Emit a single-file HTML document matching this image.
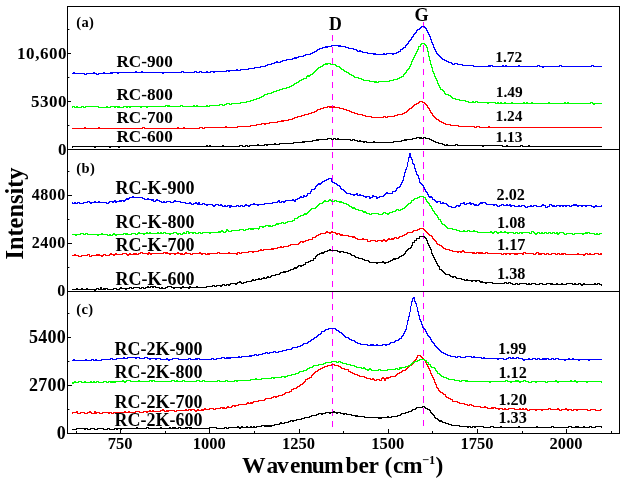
<!DOCTYPE html>
<html><head><meta charset="utf-8"><title>Raman</title>
<style>
html,body{margin:0;padding:0;background:#fff;}
svg{display:block;}
text{font-family:"Liberation Serif",serif;font-weight:bold;fill:#000;}
.cv path{fill:none;stroke-width:1;shape-rendering:crispEdges;stroke-linejoin:miter;}
.ax rect{fill:#000;shape-rendering:crispEdges;}
</style></head><body>
<svg width="624" height="484" viewBox="0 0 624 484">
<rect width="624" height="484" fill="#fff"/>
<g><line x1="332.5" x2="332.5" y1="35.0" y2="426.8" stroke="#ff00ff" stroke-width="1" stroke-dasharray="6.3 5.4" shape-rendering="crispEdges"/>
<line x1="423.5" x2="423.5" y1="22.0" y2="426.4" stroke="#ff00ff" stroke-width="1" stroke-dasharray="6.3 5.4" shape-rendering="crispEdges"/></g>
<g class="cv"><path d="M72.0 147.5 L73.0 146.5 L74.0 146.5 L75.0 146.5 L76.0 146.5 L77.0 146.5 L78.0 146.5 L79.0 146.5 L80.0 146.5 L81.0 146.5 L82.0 146.5 L83.0 146.5 L84.0 146.5 L85.0 146.5 L86.0 146.5 L87.0 146.5 L88.0 146.5 L89.0 146.5 L90.0 146.5 L91.0 146.5 L92.0 146.5 L93.0 146.5 L94.0 146.5 L95.0 147.5 L96.0 146.5 L97.0 146.5 L98.0 146.5 L99.0 146.5 L100.0 146.5 L101.0 146.5 L102.0 146.5 L103.0 146.5 L104.0 146.5 L105.0 146.5 L106.0 146.5 L107.0 146.5 L108.0 146.5 L109.0 146.5 L110.0 147.5 L111.0 146.5 L112.0 146.5 L113.0 146.5 L114.0 146.5 L115.0 146.5 L116.0 146.5 L117.0 146.5 L118.0 146.5 L119.0 147.5 L120.0 146.5 L121.0 146.5 L122.0 146.5 L123.0 146.5 L124.0 146.5 L125.0 146.5 L126.0 146.5 L127.0 146.5 L128.0 146.5 L129.0 146.5 L130.0 146.5 L131.0 146.5 L132.0 146.5 L133.0 146.5 L134.0 146.5 L135.0 146.5 L136.0 146.5 L137.0 146.5 L138.0 146.5 L139.0 146.5 L140.0 146.5 L141.0 146.5 L142.0 146.5 L143.0 146.5 L144.0 146.5 L145.0 146.5 L146.0 146.5 L147.0 146.5 L148.0 146.5 L149.0 146.5 L150.0 146.5 L151.0 146.5 L152.0 146.5 L153.0 146.5 L154.0 146.5 L155.0 146.5 L156.0 146.5 L157.0 146.5 L158.0 146.5 L159.0 146.5 L160.0 146.5 L161.0 146.5 L162.0 146.5 L163.0 146.5 L164.0 146.5 L165.0 146.5 L166.0 146.5 L167.0 146.5 L168.0 146.5 L169.0 146.5 L170.0 146.5 L171.0 146.5 L172.0 146.5 L173.0 146.5 L174.0 146.5 L175.0 146.5 L176.0 146.5 L177.0 146.5 L178.0 146.5 L179.0 146.5 L180.0 146.5 L181.0 146.5 L182.0 146.5 L183.0 146.5 L184.0 146.5 L185.0 146.5 L186.0 146.5 L187.0 146.5 L188.0 146.5 L189.0 146.5 L190.0 146.5 L191.0 146.5 L192.0 146.5 L193.0 146.5 L194.0 146.5 L195.0 146.5 L196.0 146.5 L197.0 146.5 L198.0 146.5 L199.0 146.5 L200.0 146.5 L201.0 146.5 L202.0 146.5 L203.0 146.5 L204.0 146.5 L205.0 146.5 L206.0 146.5 L207.0 145.5 L208.0 146.5 L209.0 146.5 L210.0 145.5 L211.0 146.5 L212.0 146.5 L213.0 146.5 L214.0 146.5 L215.0 146.5 L216.0 146.5 L217.0 146.5 L218.0 146.5 L219.0 146.5 L220.0 146.5 L221.0 146.5 L222.0 146.5 L223.0 145.5 L224.0 146.5 L225.0 146.5 L226.0 146.5 L227.0 146.5 L228.0 146.5 L229.0 146.5 L230.0 146.5 L231.0 146.5 L232.0 146.5 L233.0 146.5 L234.0 146.5 L235.0 146.5 L236.0 146.5 L237.0 146.5 L238.0 146.5 L239.0 146.5 L240.0 145.5 L241.0 145.5 L242.0 145.5 L243.0 146.5 L244.0 146.5 L245.0 146.5 L246.0 145.5 L247.0 145.5 L248.0 146.5 L249.0 146.5 L250.0 145.5 L251.0 145.5 L252.0 145.5 L253.0 145.5 L254.0 145.5 L255.0 145.5 L256.0 145.5 L257.0 145.5 L258.0 144.5 L259.0 145.5 L260.0 145.5 L261.0 145.5 L262.0 145.5 L263.0 145.5 L264.0 145.5 L265.0 144.5 L266.0 144.5 L267.0 145.5 L268.0 144.5 L269.0 144.5 L270.0 144.5 L271.0 144.5 L272.0 144.5 L273.0 144.5 L274.0 144.5 L275.0 143.5 L276.0 144.5 L277.0 144.5 L278.0 144.5 L279.0 144.5 L280.0 143.5 L281.0 143.5 L282.0 143.5 L283.0 143.5 L284.0 143.5 L285.0 143.5 L286.0 143.5 L287.0 143.5 L288.0 143.5 L289.0 143.5 L290.0 143.5 L291.0 143.5 L292.0 143.5 L293.0 143.5 L294.0 142.5 L295.0 142.5 L296.0 142.5 L297.0 142.5 L298.0 142.5 L299.0 142.5 L300.0 142.5 L301.0 142.5 L302.0 142.5 L303.0 141.5 L304.0 142.5 L305.0 141.5 L306.0 141.5 L307.0 141.5 L308.0 141.5 L309.0 141.5 L310.0 141.5 L311.0 141.5 L312.0 141.5 L313.0 140.5 L314.0 140.5 L315.0 140.5 L316.0 140.5 L317.0 139.5 L318.0 140.5 L319.0 139.5 L320.0 139.5 L321.0 139.5 L322.0 139.5 L323.0 139.5 L324.0 139.5 L325.0 139.5 L326.0 139.5 L327.0 139.5 L328.0 138.5 L329.0 138.5 L330.0 138.5 L331.0 138.5 L332.0 139.5 L333.0 139.5 L334.0 138.5 L335.0 138.5 L336.0 139.5 L337.0 139.5 L338.0 138.5 L339.0 139.5 L340.0 139.5 L341.0 139.5 L342.0 139.5 L343.0 139.5 L344.0 139.5 L345.0 139.5 L346.0 139.5 L347.0 139.5 L348.0 139.5 L349.0 139.5 L350.0 139.5 L351.0 140.5 L352.0 140.5 L353.0 139.5 L354.0 139.5 L355.0 140.5 L356.0 140.5 L357.0 140.5 L358.0 141.5 L359.0 141.5 L360.0 140.5 L361.0 141.5 L362.0 141.5 L363.0 141.5 L364.0 142.5 L365.0 141.5 L366.0 141.5 L367.0 142.5 L368.0 142.5 L369.0 142.5 L370.0 142.5 L371.0 142.5 L372.0 142.5 L373.0 142.5 L374.0 141.5 L375.0 142.5 L376.0 142.5 L377.0 142.5 L378.0 142.5 L379.0 142.5 L380.0 142.5 L381.0 142.5 L382.0 142.5 L383.0 142.5 L384.0 142.5 L385.0 142.5 L386.0 142.5 L387.0 142.5 L388.0 142.5 L389.0 142.5 L390.0 142.5 L391.0 142.5 L392.0 142.5 L393.0 142.5 L394.0 141.5 L395.0 141.5 L396.0 141.5 L397.0 141.5 L398.0 141.5 L399.0 141.5 L400.0 141.5 L401.0 141.5 L402.0 140.5 L403.0 140.5 L404.0 140.5 L405.0 139.5 L406.0 140.5 L407.0 139.5 L408.0 139.5 L409.0 139.5 L410.0 139.5 L411.0 139.5 L412.0 139.5 L413.0 138.5 L414.0 138.5 L415.0 138.5 L416.0 138.5 L417.0 137.5 L418.0 137.5 L419.0 137.5 L420.0 138.5 L421.0 137.5 L422.0 138.5 L423.0 138.5 L424.0 137.5 L425.0 137.5 L426.0 138.5 L427.0 138.5 L428.0 138.5 L429.0 138.5 L430.0 139.5 L431.0 139.5 L432.0 140.5 L433.0 140.5 L434.0 141.5 L435.0 141.5 L436.0 142.5 L437.0 142.5 L438.0 142.5 L439.0 143.5 L440.0 143.5 L441.0 143.5 L442.0 143.5 L443.0 144.5 L444.0 144.5 L445.0 145.5 L446.0 145.5 L447.0 144.5 L448.0 145.5 L449.0 145.5 L450.0 145.5 L451.0 145.5 L452.0 145.5 L453.0 145.5 L454.0 145.5 L455.0 145.5 L456.0 144.5 L457.0 144.5 L458.0 145.5 L459.0 145.5 L460.0 145.5 L461.0 145.5 L462.0 145.5 L463.0 145.5 L464.0 145.5 L465.0 145.5 L466.0 145.5 L467.0 145.5 L468.0 145.5 L469.0 145.5 L470.0 145.5 L471.0 145.5 L472.0 145.5 L473.0 145.5 L474.0 145.5 L475.0 145.5 L476.0 145.5 L477.0 145.5 L478.0 145.5 L479.0 145.5 L480.0 145.5 L481.0 145.5 L482.0 145.5 L483.0 146.5 L484.0 145.5 L485.0 145.5 L486.0 145.5 L487.0 145.5 L488.0 145.5 L489.0 145.5 L490.0 145.5 L491.0 145.5 L492.0 145.5 L493.0 145.5 L494.0 145.5 L495.0 145.5 L496.0 145.5 L497.0 145.5 L498.0 145.5 L499.0 145.5 L500.0 145.5 L501.0 145.5 L502.0 145.5 L503.0 146.5 L504.0 146.5 L505.0 146.5 L506.0 146.5 L507.0 145.5 L508.0 146.5 L509.0 146.5 L510.0 146.5 L511.0 146.5 L512.0 146.5 L513.0 146.5 L514.0 146.5 L515.0 146.5 L516.0 146.5 L517.0 146.5 L518.0 146.5 L519.0 146.5 L520.0 146.5 L521.0 145.5 L522.0 145.5 L523.0 146.5 L524.0 146.5 L525.0 146.5 L526.0 146.5 L527.0 146.5 L528.0 146.5 L529.0 145.5 L530.0 146.5 L531.0 146.5 L532.0 146.5 L533.0 146.5 L534.0 146.5 L535.0 146.5 L536.0 146.5 L537.0 146.5 L538.0 146.5 L539.0 146.5 L540.0 146.5 L541.0 146.5 L542.0 146.5 L543.0 146.5 L544.0 146.5 L545.0 146.5 L546.0 146.5 L547.0 146.5 L548.0 146.5 L549.0 146.5 L550.0 146.5 L551.0 146.5 L552.0 146.5 L553.0 146.5 L554.0 146.5 L555.0 146.5 L556.0 146.5 L557.0 146.5 L558.0 146.5 L559.0 146.5 L560.0 146.5 L561.0 146.5 L562.0 146.5 L563.0 146.5 L564.0 146.5 L565.0 146.5 L566.0 146.5 L567.0 146.5 L568.0 146.5 L569.0 146.5 L570.0 146.5 L571.0 146.5 L572.0 146.5 L573.0 146.5 L574.0 146.5 L575.0 146.5 L576.0 146.5 L577.0 146.5 L578.0 146.5 L579.0 146.5 L580.0 146.5 L581.0 146.5 L582.0 146.5 L583.0 146.5 L584.0 146.5 L585.0 146.5 L586.0 146.5 L587.0 146.5 L588.0 146.5 L589.0 146.5 L590.0 146.5 L591.0 146.5 L592.0 146.5 L593.0 146.5 L594.0 146.5 L595.0 146.5 L596.0 146.5 L597.0 146.5 L598.0 146.5 L599.0 146.5 L600.0 146.5 L601.0 146.5 L602.0 146.5" stroke="#000000"/>
<path d="M72.0 128.5 L73.0 128.5 L74.0 128.5 L75.0 128.5 L76.0 128.5 L77.0 128.5 L78.0 128.5 L79.0 128.5 L80.0 128.5 L81.0 128.5 L82.0 128.5 L83.0 128.5 L84.0 128.5 L85.0 127.5 L86.0 128.5 L87.0 128.5 L88.0 128.5 L89.0 128.5 L90.0 128.5 L91.0 128.5 L92.0 128.5 L93.0 128.5 L94.0 128.5 L95.0 128.5 L96.0 128.5 L97.0 128.5 L98.0 128.5 L99.0 127.5 L100.0 128.5 L101.0 128.5 L102.0 128.5 L103.0 128.5 L104.0 128.5 L105.0 128.5 L106.0 128.5 L107.0 128.5 L108.0 128.5 L109.0 128.5 L110.0 128.5 L111.0 128.5 L112.0 128.5 L113.0 128.5 L114.0 128.5 L115.0 128.5 L116.0 128.5 L117.0 128.5 L118.0 128.5 L119.0 128.5 L120.0 128.5 L121.0 128.5 L122.0 128.5 L123.0 128.5 L124.0 128.5 L125.0 128.5 L126.0 128.5 L127.0 128.5 L128.0 128.5 L129.0 128.5 L130.0 128.5 L131.0 128.5 L132.0 128.5 L133.0 128.5 L134.0 128.5 L135.0 128.5 L136.0 128.5 L137.0 128.5 L138.0 128.5 L139.0 128.5 L140.0 128.5 L141.0 128.5 L142.0 128.5 L143.0 127.5 L144.0 127.5 L145.0 128.5 L146.0 128.5 L147.0 128.5 L148.0 128.5 L149.0 128.5 L150.0 128.5 L151.0 128.5 L152.0 128.5 L153.0 128.5 L154.0 128.5 L155.0 128.5 L156.0 128.5 L157.0 128.5 L158.0 128.5 L159.0 128.5 L160.0 128.5 L161.0 128.5 L162.0 128.5 L163.0 128.5 L164.0 128.5 L165.0 128.5 L166.0 128.5 L167.0 128.5 L168.0 128.5 L169.0 128.5 L170.0 128.5 L171.0 128.5 L172.0 128.5 L173.0 128.5 L174.0 128.5 L175.0 128.5 L176.0 128.5 L177.0 128.5 L178.0 127.5 L179.0 128.5 L180.0 128.5 L181.0 128.5 L182.0 128.5 L183.0 128.5 L184.0 127.5 L185.0 128.5 L186.0 128.5 L187.0 128.5 L188.0 128.5 L189.0 128.5 L190.0 128.5 L191.0 128.5 L192.0 128.5 L193.0 128.5 L194.0 128.5 L195.0 128.5 L196.0 128.5 L197.0 128.5 L198.0 128.5 L199.0 128.5 L200.0 127.5 L201.0 127.5 L202.0 127.5 L203.0 128.5 L204.0 128.5 L205.0 127.5 L206.0 127.5 L207.0 127.5 L208.0 127.5 L209.0 127.5 L210.0 127.5 L211.0 127.5 L212.0 127.5 L213.0 127.5 L214.0 127.5 L215.0 127.5 L216.0 127.5 L217.0 127.5 L218.0 127.5 L219.0 127.5 L220.0 127.5 L221.0 127.5 L222.0 127.5 L223.0 127.5 L224.0 127.5 L225.0 127.5 L226.0 126.5 L227.0 127.5 L228.0 127.5 L229.0 127.5 L230.0 127.5 L231.0 127.5 L232.0 127.5 L233.0 127.5 L234.0 127.5 L235.0 127.5 L236.0 127.5 L237.0 127.5 L238.0 126.5 L239.0 126.5 L240.0 126.5 L241.0 126.5 L242.0 126.5 L243.0 126.5 L244.0 126.5 L245.0 126.5 L246.0 126.5 L247.0 126.5 L248.0 126.5 L249.0 126.5 L250.0 126.5 L251.0 125.5 L252.0 125.5 L253.0 125.5 L254.0 125.5 L255.0 125.5 L256.0 125.5 L257.0 124.5 L258.0 124.5 L259.0 124.5 L260.0 124.5 L261.0 124.5 L262.0 123.5 L263.0 123.5 L264.0 123.5 L265.0 124.5 L266.0 123.5 L267.0 123.5 L268.0 123.5 L269.0 123.5 L270.0 122.5 L271.0 122.5 L272.0 122.5 L273.0 122.5 L274.0 122.5 L275.0 122.5 L276.0 122.5 L277.0 122.5 L278.0 121.5 L279.0 121.5 L280.0 121.5 L281.0 121.5 L282.0 120.5 L283.0 121.5 L284.0 120.5 L285.0 120.5 L286.0 120.5 L287.0 120.5 L288.0 120.5 L289.0 119.5 L290.0 119.5 L291.0 119.5 L292.0 119.5 L293.0 118.5 L294.0 118.5 L295.0 117.5 L296.0 117.5 L297.0 117.5 L298.0 116.5 L299.0 116.5 L300.0 116.5 L301.0 116.5 L302.0 115.5 L303.0 115.5 L304.0 115.5 L305.0 114.5 L306.0 114.5 L307.0 114.5 L308.0 114.5 L309.0 113.5 L310.0 113.5 L311.0 113.5 L312.0 112.5 L313.0 112.5 L314.0 112.5 L315.0 111.5 L316.0 111.5 L317.0 110.5 L318.0 109.5 L319.0 109.5 L320.0 109.5 L321.0 108.5 L322.0 108.5 L323.0 108.5 L324.0 107.5 L325.0 107.5 L326.0 107.5 L327.0 107.5 L328.0 106.5 L329.0 106.5 L330.0 107.5 L331.0 106.5 L332.0 107.5 L333.0 107.5 L334.0 106.5 L335.0 107.5 L336.0 107.5 L337.0 107.5 L338.0 107.5 L339.0 107.5 L340.0 108.5 L341.0 108.5 L342.0 108.5 L343.0 108.5 L344.0 109.5 L345.0 109.5 L346.0 109.5 L347.0 110.5 L348.0 110.5 L349.0 110.5 L350.0 111.5 L351.0 111.5 L352.0 112.5 L353.0 112.5 L354.0 112.5 L355.0 113.5 L356.0 113.5 L357.0 113.5 L358.0 114.5 L359.0 114.5 L360.0 114.5 L361.0 114.5 L362.0 114.5 L363.0 115.5 L364.0 115.5 L365.0 115.5 L366.0 116.5 L367.0 116.5 L368.0 116.5 L369.0 116.5 L370.0 116.5 L371.0 116.5 L372.0 117.5 L373.0 117.5 L374.0 117.5 L375.0 117.5 L376.0 117.5 L377.0 117.5 L378.0 117.5 L379.0 117.5 L380.0 117.5 L381.0 117.5 L382.0 117.5 L383.0 117.5 L384.0 116.5 L385.0 116.5 L386.0 117.5 L387.0 117.5 L388.0 116.5 L389.0 116.5 L390.0 116.5 L391.0 116.5 L392.0 116.5 L393.0 116.5 L394.0 116.5 L395.0 115.5 L396.0 115.5 L397.0 115.5 L398.0 114.5 L399.0 114.5 L400.0 114.5 L401.0 114.5 L402.0 114.5 L403.0 113.5 L404.0 113.5 L405.0 112.5 L406.0 112.5 L407.0 111.5 L408.0 110.5 L409.0 109.5 L410.0 108.5 L411.0 108.5 L412.0 107.5 L413.0 106.5 L414.0 105.5 L415.0 104.5 L416.0 104.5 L417.0 103.5 L418.0 103.5 L419.0 102.5 L420.0 101.5 L421.0 101.5 L422.0 101.5 L423.0 102.5 L424.0 102.5 L425.0 103.5 L426.0 104.5 L427.0 105.5 L428.0 107.5 L429.0 108.5 L430.0 110.5 L431.0 112.5 L432.0 113.5 L433.0 115.5 L434.0 116.5 L435.0 117.5 L436.0 118.5 L437.0 119.5 L438.0 119.5 L439.0 120.5 L440.0 121.5 L441.0 121.5 L442.0 122.5 L443.0 122.5 L444.0 123.5 L445.0 123.5 L446.0 124.5 L447.0 124.5 L448.0 124.5 L449.0 124.5 L450.0 124.5 L451.0 125.5 L452.0 125.5 L453.0 125.5 L454.0 125.5 L455.0 125.5 L456.0 125.5 L457.0 125.5 L458.0 125.5 L459.0 126.5 L460.0 126.5 L461.0 126.5 L462.0 126.5 L463.0 126.5 L464.0 126.5 L465.0 126.5 L466.0 126.5 L467.0 126.5 L468.0 126.5 L469.0 126.5 L470.0 126.5 L471.0 126.5 L472.0 126.5 L473.0 126.5 L474.0 126.5 L475.0 127.5 L476.0 127.5 L477.0 126.5 L478.0 126.5 L479.0 126.5 L480.0 127.5 L481.0 127.5 L482.0 127.5 L483.0 127.5 L484.0 127.5 L485.0 127.5 L486.0 127.5 L487.0 127.5 L488.0 127.5 L489.0 126.5 L490.0 127.5 L491.0 127.5 L492.0 127.5 L493.0 127.5 L494.0 127.5 L495.0 127.5 L496.0 127.5 L497.0 127.5 L498.0 127.5 L499.0 127.5 L500.0 127.5 L501.0 127.5 L502.0 127.5 L503.0 127.5 L504.0 127.5 L505.0 127.5 L506.0 127.5 L507.0 127.5 L508.0 127.5 L509.0 127.5 L510.0 127.5 L511.0 127.5 L512.0 127.5 L513.0 127.5 L514.0 127.5 L515.0 127.5 L516.0 127.5 L517.0 127.5 L518.0 127.5 L519.0 127.5 L520.0 127.5 L521.0 127.5 L522.0 127.5 L523.0 127.5 L524.0 127.5 L525.0 127.5 L526.0 127.5 L527.0 127.5 L528.0 127.5 L529.0 127.5 L530.0 127.5 L531.0 127.5 L532.0 127.5 L533.0 127.5 L534.0 127.5 L535.0 127.5 L536.0 127.5 L537.0 127.5 L538.0 127.5 L539.0 127.5 L540.0 127.5 L541.0 127.5 L542.0 127.5 L543.0 127.5 L544.0 127.5 L545.0 127.5 L546.0 127.5 L547.0 127.5 L548.0 127.5 L549.0 127.5 L550.0 127.5 L551.0 127.5 L552.0 127.5 L553.0 127.5 L554.0 127.5 L555.0 127.5 L556.0 127.5 L557.0 127.5 L558.0 127.5 L559.0 127.5 L560.0 127.5 L561.0 127.5 L562.0 127.5 L563.0 127.5 L564.0 127.5 L565.0 127.5 L566.0 127.5 L567.0 127.5 L568.0 127.5 L569.0 127.5 L570.0 127.5 L571.0 127.5 L572.0 127.5 L573.0 127.5 L574.0 127.5 L575.0 127.5 L576.0 127.5 L577.0 127.5 L578.0 127.5 L579.0 127.5 L580.0 127.5 L581.0 127.5 L582.0 127.5 L583.0 127.5 L584.0 127.5 L585.0 127.5 L586.0 127.5 L587.0 127.5 L588.0 127.5 L589.0 127.5 L590.0 127.5 L591.0 127.5 L592.0 127.5 L593.0 127.5 L594.0 127.5 L595.0 127.5 L596.0 127.5 L597.0 127.5 L598.0 127.5 L599.0 127.5 L600.0 127.5 L601.0 127.5 L602.0 127.5" stroke="#ff0000"/>
<path d="M72.0 107.5 L73.0 106.5 L74.0 106.5 L75.0 107.5 L76.0 107.5 L77.0 106.5 L78.0 107.5 L79.0 107.5 L80.0 107.5 L81.0 107.5 L82.0 106.5 L83.0 106.5 L84.0 107.5 L85.0 107.5 L86.0 106.5 L87.0 106.5 L88.0 106.5 L89.0 106.5 L90.0 106.5 L91.0 106.5 L92.0 106.5 L93.0 106.5 L94.0 106.5 L95.0 106.5 L96.0 106.5 L97.0 106.5 L98.0 106.5 L99.0 107.5 L100.0 107.5 L101.0 107.5 L102.0 107.5 L103.0 107.5 L104.0 107.5 L105.0 107.5 L106.0 107.5 L107.0 106.5 L108.0 107.5 L109.0 107.5 L110.0 107.5 L111.0 106.5 L112.0 106.5 L113.0 106.5 L114.0 106.5 L115.0 107.5 L116.0 106.5 L117.0 106.5 L118.0 107.5 L119.0 106.5 L120.0 107.5 L121.0 107.5 L122.0 107.5 L123.0 107.5 L124.0 106.5 L125.0 106.5 L126.0 106.5 L127.0 107.5 L128.0 106.5 L129.0 106.5 L130.0 107.5 L131.0 106.5 L132.0 106.5 L133.0 106.5 L134.0 106.5 L135.0 106.5 L136.0 106.5 L137.0 106.5 L138.0 106.5 L139.0 106.5 L140.0 106.5 L141.0 107.5 L142.0 106.5 L143.0 106.5 L144.0 106.5 L145.0 106.5 L146.0 106.5 L147.0 107.5 L148.0 106.5 L149.0 106.5 L150.0 106.5 L151.0 106.5 L152.0 106.5 L153.0 106.5 L154.0 106.5 L155.0 106.5 L156.0 106.5 L157.0 106.5 L158.0 106.5 L159.0 106.5 L160.0 106.5 L161.0 106.5 L162.0 106.5 L163.0 106.5 L164.0 106.5 L165.0 106.5 L166.0 105.5 L167.0 105.5 L168.0 106.5 L169.0 105.5 L170.0 106.5 L171.0 106.5 L172.0 106.5 L173.0 106.5 L174.0 106.5 L175.0 106.5 L176.0 106.5 L177.0 106.5 L178.0 106.5 L179.0 106.5 L180.0 106.5 L181.0 105.5 L182.0 105.5 L183.0 106.5 L184.0 106.5 L185.0 106.5 L186.0 106.5 L187.0 106.5 L188.0 106.5 L189.0 106.5 L190.0 106.5 L191.0 106.5 L192.0 106.5 L193.0 106.5 L194.0 105.5 L195.0 106.5 L196.0 106.5 L197.0 105.5 L198.0 106.5 L199.0 106.5 L200.0 106.5 L201.0 106.5 L202.0 106.5 L203.0 106.5 L204.0 106.5 L205.0 106.5 L206.0 106.5 L207.0 105.5 L208.0 106.5 L209.0 106.5 L210.0 105.5 L211.0 105.5 L212.0 105.5 L213.0 105.5 L214.0 105.5 L215.0 105.5 L216.0 105.5 L217.0 105.5 L218.0 105.5 L219.0 105.5 L220.0 104.5 L221.0 104.5 L222.0 104.5 L223.0 105.5 L224.0 105.5 L225.0 104.5 L226.0 104.5 L227.0 103.5 L228.0 103.5 L229.0 103.5 L230.0 104.5 L231.0 104.5 L232.0 103.5 L233.0 103.5 L234.0 103.5 L235.0 103.5 L236.0 103.5 L237.0 103.5 L238.0 103.5 L239.0 103.5 L240.0 103.5 L241.0 102.5 L242.0 102.5 L243.0 102.5 L244.0 102.5 L245.0 102.5 L246.0 102.5 L247.0 101.5 L248.0 101.5 L249.0 101.5 L250.0 101.5 L251.0 100.5 L252.0 100.5 L253.0 100.5 L254.0 99.5 L255.0 99.5 L256.0 99.5 L257.0 98.5 L258.0 98.5 L259.0 98.5 L260.0 97.5 L261.0 97.5 L262.0 96.5 L263.0 96.5 L264.0 95.5 L265.0 94.5 L266.0 94.5 L267.0 94.5 L268.0 93.5 L269.0 93.5 L270.0 93.5 L271.0 93.5 L272.0 92.5 L273.0 92.5 L274.0 91.5 L275.0 91.5 L276.0 91.5 L277.0 90.5 L278.0 90.5 L279.0 90.5 L280.0 89.5 L281.0 89.5 L282.0 89.5 L283.0 88.5 L284.0 88.5 L285.0 88.5 L286.0 88.5 L287.0 87.5 L288.0 87.5 L289.0 87.5 L290.0 86.5 L291.0 86.5 L292.0 85.5 L293.0 85.5 L294.0 84.5 L295.0 83.5 L296.0 83.5 L297.0 82.5 L298.0 82.5 L299.0 81.5 L300.0 80.5 L301.0 80.5 L302.0 79.5 L303.0 79.5 L304.0 78.5 L305.0 78.5 L306.0 78.5 L307.0 76.5 L308.0 75.5 L309.0 76.5 L310.0 75.5 L311.0 74.5 L312.0 74.5 L313.0 73.5 L314.0 72.5 L315.0 71.5 L316.0 70.5 L317.0 69.5 L318.0 68.5 L319.0 67.5 L320.0 67.5 L321.0 66.5 L322.0 66.5 L323.0 65.5 L324.0 64.5 L325.0 64.5 L326.0 63.5 L327.0 64.5 L328.0 63.5 L329.0 63.5 L330.0 63.5 L331.0 64.5 L332.0 64.5 L333.0 64.5 L334.0 64.5 L335.0 64.5 L336.0 65.5 L337.0 66.5 L338.0 66.5 L339.0 66.5 L340.0 67.5 L341.0 68.5 L342.0 69.5 L343.0 69.5 L344.0 70.5 L345.0 71.5 L346.0 71.5 L347.0 72.5 L348.0 72.5 L349.0 73.5 L350.0 74.5 L351.0 74.5 L352.0 75.5 L353.0 75.5 L354.0 76.5 L355.0 77.5 L356.0 77.5 L357.0 77.5 L358.0 77.5 L359.0 78.5 L360.0 78.5 L361.0 78.5 L362.0 79.5 L363.0 79.5 L364.0 80.5 L365.0 80.5 L366.0 80.5 L367.0 80.5 L368.0 80.5 L369.0 80.5 L370.0 81.5 L371.0 81.5 L372.0 81.5 L373.0 81.5 L374.0 81.5 L375.0 82.5 L376.0 81.5 L377.0 82.5 L378.0 82.5 L379.0 81.5 L380.0 81.5 L381.0 81.5 L382.0 81.5 L383.0 81.5 L384.0 81.5 L385.0 81.5 L386.0 81.5 L387.0 81.5 L388.0 81.5 L389.0 81.5 L390.0 80.5 L391.0 80.5 L392.0 80.5 L393.0 80.5 L394.0 79.5 L395.0 79.5 L396.0 79.5 L397.0 79.5 L398.0 78.5 L399.0 78.5 L400.0 77.5 L401.0 77.5 L402.0 76.5 L403.0 76.5 L404.0 74.5 L405.0 73.5 L406.0 72.5 L407.0 70.5 L408.0 69.5 L409.0 68.5 L410.0 66.5 L411.0 64.5 L412.0 61.5 L413.0 59.5 L414.0 57.5 L415.0 55.5 L416.0 53.5 L417.0 51.5 L418.0 49.5 L419.0 46.5 L420.0 46.5 L421.0 44.5 L422.0 43.5 L423.0 43.5 L424.0 43.5 L425.0 44.5 L426.0 45.5 L427.0 47.5 L428.0 51.5 L429.0 56.5 L430.0 60.5 L431.0 64.5 L432.0 67.5 L433.0 71.5 L434.0 73.5 L435.0 76.5 L436.0 78.5 L437.0 80.5 L438.0 83.5 L439.0 85.5 L440.0 87.5 L441.0 89.5 L442.0 89.5 L443.0 90.5 L444.0 91.5 L445.0 93.5 L446.0 94.5 L447.0 94.5 L448.0 94.5 L449.0 95.5 L450.0 95.5 L451.0 96.5 L452.0 97.5 L453.0 98.5 L454.0 98.5 L455.0 98.5 L456.0 99.5 L457.0 99.5 L458.0 99.5 L459.0 99.5 L460.0 100.5 L461.0 100.5 L462.0 100.5 L463.0 100.5 L464.0 100.5 L465.0 100.5 L466.0 101.5 L467.0 101.5 L468.0 101.5 L469.0 102.5 L470.0 102.5 L471.0 102.5 L472.0 102.5 L473.0 101.5 L474.0 102.5 L475.0 102.5 L476.0 101.5 L477.0 101.5 L478.0 102.5 L479.0 102.5 L480.0 102.5 L481.0 102.5 L482.0 102.5 L483.0 102.5 L484.0 102.5 L485.0 102.5 L486.0 102.5 L487.0 102.5 L488.0 103.5 L489.0 102.5 L490.0 102.5 L491.0 102.5 L492.0 102.5 L493.0 102.5 L494.0 102.5 L495.0 102.5 L496.0 103.5 L497.0 103.5 L498.0 102.5 L499.0 103.5 L500.0 103.5 L501.0 102.5 L502.0 103.5 L503.0 103.5 L504.0 103.5 L505.0 102.5 L506.0 103.5 L507.0 103.5 L508.0 103.5 L509.0 103.5 L510.0 103.5 L511.0 103.5 L512.0 102.5 L513.0 103.5 L514.0 103.5 L515.0 103.5 L516.0 103.5 L517.0 103.5 L518.0 103.5 L519.0 103.5 L520.0 103.5 L521.0 103.5 L522.0 103.5 L523.0 103.5 L524.0 102.5 L525.0 103.5 L526.0 103.5 L527.0 102.5 L528.0 103.5 L529.0 103.5 L530.0 103.5 L531.0 103.5 L532.0 102.5 L533.0 103.5 L534.0 103.5 L535.0 103.5 L536.0 103.5 L537.0 103.5 L538.0 103.5 L539.0 103.5 L540.0 103.5 L541.0 103.5 L542.0 103.5 L543.0 103.5 L544.0 103.5 L545.0 103.5 L546.0 103.5 L547.0 103.5 L548.0 103.5 L549.0 102.5 L550.0 103.5 L551.0 103.5 L552.0 103.5 L553.0 103.5 L554.0 103.5 L555.0 103.5 L556.0 103.5 L557.0 103.5 L558.0 103.5 L559.0 103.5 L560.0 103.5 L561.0 103.5 L562.0 103.5 L563.0 103.5 L564.0 103.5 L565.0 102.5 L566.0 103.5 L567.0 103.5 L568.0 102.5 L569.0 103.5 L570.0 103.5 L571.0 103.5 L572.0 103.5 L573.0 103.5 L574.0 103.5 L575.0 103.5 L576.0 103.5 L577.0 103.5 L578.0 103.5 L579.0 103.5 L580.0 103.5 L581.0 103.5 L582.0 103.5 L583.0 103.5 L584.0 103.5 L585.0 103.5 L586.0 103.5 L587.0 103.5 L588.0 103.5 L589.0 103.5 L590.0 103.5 L591.0 102.5 L592.0 102.5 L593.0 103.5 L594.0 104.5 L595.0 103.5 L596.0 103.5 L597.0 103.5 L598.0 103.5 L599.0 103.5 L600.0 103.5 L601.0 103.5 L602.0 103.5" stroke="#00ff00"/>
<path d="M72.0 73.5 L73.0 73.5 L74.0 72.5 L75.0 73.5 L76.0 73.5 L77.0 73.5 L78.0 73.5 L79.0 73.5 L80.0 73.5 L81.0 73.5 L82.0 73.5 L83.0 73.5 L84.0 73.5 L85.0 74.5 L86.0 74.5 L87.0 73.5 L88.0 73.5 L89.0 73.5 L90.0 73.5 L91.0 73.5 L92.0 73.5 L93.0 73.5 L94.0 72.5 L95.0 73.5 L96.0 73.5 L97.0 74.5 L98.0 74.5 L99.0 73.5 L100.0 73.5 L101.0 73.5 L102.0 73.5 L103.0 73.5 L104.0 72.5 L105.0 73.5 L106.0 73.5 L107.0 73.5 L108.0 73.5 L109.0 73.5 L110.0 73.5 L111.0 72.5 L112.0 73.5 L113.0 72.5 L114.0 72.5 L115.0 72.5 L116.0 72.5 L117.0 72.5 L118.0 73.5 L119.0 72.5 L120.0 72.5 L121.0 72.5 L122.0 72.5 L123.0 72.5 L124.0 72.5 L125.0 72.5 L126.0 72.5 L127.0 72.5 L128.0 72.5 L129.0 72.5 L130.0 72.5 L131.0 72.5 L132.0 72.5 L133.0 72.5 L134.0 72.5 L135.0 72.5 L136.0 71.5 L137.0 72.5 L138.0 72.5 L139.0 72.5 L140.0 72.5 L141.0 72.5 L142.0 71.5 L143.0 72.5 L144.0 72.5 L145.0 72.5 L146.0 72.5 L147.0 72.5 L148.0 72.5 L149.0 72.5 L150.0 72.5 L151.0 72.5 L152.0 72.5 L153.0 72.5 L154.0 72.5 L155.0 72.5 L156.0 72.5 L157.0 72.5 L158.0 72.5 L159.0 72.5 L160.0 72.5 L161.0 72.5 L162.0 72.5 L163.0 73.5 L164.0 72.5 L165.0 72.5 L166.0 72.5 L167.0 72.5 L168.0 72.5 L169.0 72.5 L170.0 72.5 L171.0 72.5 L172.0 72.5 L173.0 72.5 L174.0 72.5 L175.0 72.5 L176.0 72.5 L177.0 72.5 L178.0 72.5 L179.0 72.5 L180.0 72.5 L181.0 72.5 L182.0 71.5 L183.0 71.5 L184.0 72.5 L185.0 72.5 L186.0 72.5 L187.0 72.5 L188.0 72.5 L189.0 72.5 L190.0 72.5 L191.0 72.5 L192.0 72.5 L193.0 72.5 L194.0 72.5 L195.0 71.5 L196.0 71.5 L197.0 72.5 L198.0 72.5 L199.0 72.5 L200.0 71.5 L201.0 71.5 L202.0 72.5 L203.0 72.5 L204.0 72.5 L205.0 72.5 L206.0 72.5 L207.0 71.5 L208.0 72.5 L209.0 72.5 L210.0 72.5 L211.0 71.5 L212.0 71.5 L213.0 71.5 L214.0 72.5 L215.0 71.5 L216.0 71.5 L217.0 71.5 L218.0 71.5 L219.0 71.5 L220.0 71.5 L221.0 71.5 L222.0 71.5 L223.0 71.5 L224.0 71.5 L225.0 71.5 L226.0 71.5 L227.0 70.5 L228.0 70.5 L229.0 71.5 L230.0 70.5 L231.0 70.5 L232.0 70.5 L233.0 70.5 L234.0 70.5 L235.0 70.5 L236.0 70.5 L237.0 69.5 L238.0 70.5 L239.0 70.5 L240.0 70.5 L241.0 69.5 L242.0 69.5 L243.0 69.5 L244.0 69.5 L245.0 69.5 L246.0 69.5 L247.0 69.5 L248.0 69.5 L249.0 68.5 L250.0 68.5 L251.0 68.5 L252.0 68.5 L253.0 68.5 L254.0 68.5 L255.0 67.5 L256.0 67.5 L257.0 67.5 L258.0 67.5 L259.0 67.5 L260.0 67.5 L261.0 66.5 L262.0 66.5 L263.0 66.5 L264.0 66.5 L265.0 66.5 L266.0 65.5 L267.0 65.5 L268.0 64.5 L269.0 64.5 L270.0 64.5 L271.0 64.5 L272.0 63.5 L273.0 63.5 L274.0 63.5 L275.0 62.5 L276.0 62.5 L277.0 61.5 L278.0 62.5 L279.0 62.5 L280.0 62.5 L281.0 61.5 L282.0 61.5 L283.0 60.5 L284.0 60.5 L285.0 60.5 L286.0 60.5 L287.0 59.5 L288.0 59.5 L289.0 59.5 L290.0 59.5 L291.0 59.5 L292.0 59.5 L293.0 58.5 L294.0 58.5 L295.0 57.5 L296.0 58.5 L297.0 57.5 L298.0 57.5 L299.0 56.5 L300.0 56.5 L301.0 56.5 L302.0 56.5 L303.0 56.5 L304.0 55.5 L305.0 55.5 L306.0 54.5 L307.0 54.5 L308.0 54.5 L309.0 54.5 L310.0 54.5 L311.0 53.5 L312.0 53.5 L313.0 52.5 L314.0 52.5 L315.0 51.5 L316.0 51.5 L317.0 50.5 L318.0 49.5 L319.0 49.5 L320.0 48.5 L321.0 48.5 L322.0 48.5 L323.0 47.5 L324.0 47.5 L325.0 47.5 L326.0 46.5 L327.0 47.5 L328.0 46.5 L329.0 46.5 L330.0 46.5 L331.0 46.5 L332.0 45.5 L333.0 45.5 L334.0 45.5 L335.0 45.5 L336.0 45.5 L337.0 45.5 L338.0 45.5 L339.0 46.5 L340.0 45.5 L341.0 46.5 L342.0 46.5 L343.0 46.5 L344.0 46.5 L345.0 46.5 L346.0 47.5 L347.0 47.5 L348.0 47.5 L349.0 48.5 L350.0 48.5 L351.0 48.5 L352.0 48.5 L353.0 48.5 L354.0 49.5 L355.0 49.5 L356.0 49.5 L357.0 50.5 L358.0 51.5 L359.0 51.5 L360.0 50.5 L361.0 51.5 L362.0 51.5 L363.0 52.5 L364.0 52.5 L365.0 52.5 L366.0 52.5 L367.0 52.5 L368.0 53.5 L369.0 53.5 L370.0 53.5 L371.0 53.5 L372.0 53.5 L373.0 53.5 L374.0 54.5 L375.0 53.5 L376.0 54.5 L377.0 54.5 L378.0 54.5 L379.0 54.5 L380.0 54.5 L381.0 54.5 L382.0 54.5 L383.0 54.5 L384.0 53.5 L385.0 54.5 L386.0 54.5 L387.0 53.5 L388.0 53.5 L389.0 53.5 L390.0 53.5 L391.0 53.5 L392.0 53.5 L393.0 54.5 L394.0 53.5 L395.0 53.5 L396.0 53.5 L397.0 52.5 L398.0 52.5 L399.0 51.5 L400.0 51.5 L401.0 49.5 L402.0 49.5 L403.0 48.5 L404.0 47.5 L405.0 47.5 L406.0 45.5 L407.0 44.5 L408.0 43.5 L409.0 41.5 L410.0 40.5 L411.0 39.5 L412.0 37.5 L413.0 36.5 L414.0 34.5 L415.0 33.5 L416.0 32.5 L417.0 30.5 L418.0 29.5 L419.0 29.5 L420.0 28.5 L421.0 27.5 L422.0 26.5 L423.0 26.5 L424.0 26.5 L425.0 27.5 L426.0 28.5 L427.0 30.5 L428.0 32.5 L429.0 34.5 L430.0 36.5 L431.0 39.5 L432.0 42.5 L433.0 44.5 L434.0 47.5 L435.0 49.5 L436.0 51.5 L437.0 53.5 L438.0 54.5 L439.0 55.5 L440.0 56.5 L441.0 57.5 L442.0 58.5 L443.0 59.5 L444.0 59.5 L445.0 60.5 L446.0 60.5 L447.0 61.5 L448.0 61.5 L449.0 62.5 L450.0 62.5 L451.0 62.5 L452.0 63.5 L453.0 64.5 L454.0 64.5 L455.0 63.5 L456.0 63.5 L457.0 63.5 L458.0 64.5 L459.0 64.5 L460.0 64.5 L461.0 64.5 L462.0 64.5 L463.0 65.5 L464.0 65.5 L465.0 65.5 L466.0 65.5 L467.0 65.5 L468.0 65.5 L469.0 65.5 L470.0 65.5 L471.0 65.5 L472.0 65.5 L473.0 65.5 L474.0 66.5 L475.0 66.5 L476.0 66.5 L477.0 66.5 L478.0 66.5 L479.0 66.5 L480.0 66.5 L481.0 66.5 L482.0 66.5 L483.0 66.5 L484.0 66.5 L485.0 66.5 L486.0 66.5 L487.0 66.5 L488.0 66.5 L489.0 65.5 L490.0 66.5 L491.0 65.5 L492.0 65.5 L493.0 66.5 L494.0 66.5 L495.0 66.5 L496.0 66.5 L497.0 66.5 L498.0 66.5 L499.0 66.5 L500.0 66.5 L501.0 66.5 L502.0 66.5 L503.0 65.5 L504.0 66.5 L505.0 66.5 L506.0 65.5 L507.0 66.5 L508.0 66.5 L509.0 66.5 L510.0 66.5 L511.0 66.5 L512.0 66.5 L513.0 66.5 L514.0 66.5 L515.0 66.5 L516.0 66.5 L517.0 66.5 L518.0 66.5 L519.0 65.5 L520.0 66.5 L521.0 66.5 L522.0 66.5 L523.0 66.5 L524.0 66.5 L525.0 66.5 L526.0 66.5 L527.0 66.5 L528.0 66.5 L529.0 66.5 L530.0 66.5 L531.0 66.5 L532.0 66.5 L533.0 66.5 L534.0 66.5 L535.0 66.5 L536.0 66.5 L537.0 66.5 L538.0 65.5 L539.0 65.5 L540.0 66.5 L541.0 66.5 L542.0 66.5 L543.0 67.5 L544.0 66.5 L545.0 66.5 L546.0 66.5 L547.0 66.5 L548.0 66.5 L549.0 66.5 L550.0 66.5 L551.0 66.5 L552.0 66.5 L553.0 66.5 L554.0 66.5 L555.0 66.5 L556.0 66.5 L557.0 66.5 L558.0 66.5 L559.0 66.5 L560.0 65.5 L561.0 65.5 L562.0 66.5 L563.0 66.5 L564.0 66.5 L565.0 66.5 L566.0 66.5 L567.0 66.5 L568.0 66.5 L569.0 66.5 L570.0 66.5 L571.0 66.5 L572.0 66.5 L573.0 66.5 L574.0 66.5 L575.0 66.5 L576.0 66.5 L577.0 66.5 L578.0 66.5 L579.0 66.5 L580.0 66.5 L581.0 66.5 L582.0 66.5 L583.0 66.5 L584.0 66.5 L585.0 66.5 L586.0 66.5 L587.0 66.5 L588.0 66.5 L589.0 66.5 L590.0 66.5 L591.0 66.5 L592.0 65.5 L593.0 65.5 L594.0 66.5 L595.0 66.5 L596.0 66.5 L597.0 66.5 L598.0 66.5 L599.0 66.5 L600.0 66.5 L601.0 66.5 L602.0 66.5" stroke="#0000ff"/>
<path d="M72.0 289.5 L73.0 289.5 L74.0 289.5 L75.0 289.5 L76.0 289.5 L77.0 288.5 L78.0 289.5 L79.0 289.5 L80.0 289.5 L81.0 289.5 L82.0 288.5 L83.0 289.5 L84.0 289.5 L85.0 289.5 L86.0 289.5 L87.0 288.5 L88.0 289.5 L89.0 289.5 L90.0 289.5 L91.0 289.5 L92.0 289.5 L93.0 289.5 L94.0 289.5 L95.0 290.5 L96.0 289.5 L97.0 288.5 L98.0 288.5 L99.0 289.5 L100.0 289.5 L101.0 287.5 L102.0 289.5 L103.0 289.5 L104.0 288.5 L105.0 289.5 L106.0 288.5 L107.0 288.5 L108.0 289.5 L109.0 289.5 L110.0 289.5 L111.0 289.5 L112.0 289.5 L113.0 289.5 L114.0 288.5 L115.0 288.5 L116.0 288.5 L117.0 289.5 L118.0 289.5 L119.0 289.5 L120.0 288.5 L121.0 287.5 L122.0 288.5 L123.0 288.5 L124.0 288.5 L125.0 288.5 L126.0 289.5 L127.0 288.5 L128.0 288.5 L129.0 288.5 L130.0 287.5 L131.0 287.5 L132.0 288.5 L133.0 288.5 L134.0 287.5 L135.0 287.5 L136.0 287.5 L137.0 287.5 L138.0 287.5 L139.0 287.5 L140.0 288.5 L141.0 288.5 L142.0 287.5 L143.0 287.5 L144.0 288.5 L145.0 288.5 L146.0 287.5 L147.0 287.5 L148.0 286.5 L149.0 287.5 L150.0 287.5 L151.0 286.5 L152.0 286.5 L153.0 287.5 L154.0 286.5 L155.0 286.5 L156.0 287.5 L157.0 287.5 L158.0 287.5 L159.0 287.5 L160.0 288.5 L161.0 288.5 L162.0 287.5 L163.0 288.5 L164.0 288.5 L165.0 288.5 L166.0 287.5 L167.0 287.5 L168.0 286.5 L169.0 286.5 L170.0 286.5 L171.0 286.5 L172.0 287.5 L173.0 287.5 L174.0 288.5 L175.0 287.5 L176.0 287.5 L177.0 287.5 L178.0 287.5 L179.0 287.5 L180.0 287.5 L181.0 288.5 L182.0 287.5 L183.0 286.5 L184.0 287.5 L185.0 287.5 L186.0 287.5 L187.0 287.5 L188.0 287.5 L189.0 288.5 L190.0 286.5 L191.0 287.5 L192.0 287.5 L193.0 287.5 L194.0 287.5 L195.0 287.5 L196.0 287.5 L197.0 286.5 L198.0 287.5 L199.0 287.5 L200.0 287.5 L201.0 287.5 L202.0 287.5 L203.0 287.5 L204.0 287.5 L205.0 287.5 L206.0 287.5 L207.0 286.5 L208.0 286.5 L209.0 286.5 L210.0 286.5 L211.0 286.5 L212.0 286.5 L213.0 285.5 L214.0 285.5 L215.0 286.5 L216.0 286.5 L217.0 285.5 L218.0 285.5 L219.0 285.5 L220.0 285.5 L221.0 286.5 L222.0 285.5 L223.0 284.5 L224.0 284.5 L225.0 285.5 L226.0 285.5 L227.0 284.5 L228.0 284.5 L229.0 285.5 L230.0 284.5 L231.0 283.5 L232.0 283.5 L233.0 283.5 L234.0 283.5 L235.0 283.5 L236.0 284.5 L237.0 283.5 L238.0 282.5 L239.0 282.5 L240.0 281.5 L241.0 282.5 L242.0 283.5 L243.0 283.5 L244.0 282.5 L245.0 282.5 L246.0 282.5 L247.0 281.5 L248.0 281.5 L249.0 281.5 L250.0 281.5 L251.0 281.5 L252.0 280.5 L253.0 279.5 L254.0 280.5 L255.0 280.5 L256.0 279.5 L257.0 279.5 L258.0 279.5 L259.0 278.5 L260.0 279.5 L261.0 279.5 L262.0 278.5 L263.0 278.5 L264.0 277.5 L265.0 278.5 L266.0 278.5 L267.0 277.5 L268.0 276.5 L269.0 277.5 L270.0 277.5 L271.0 276.5 L272.0 275.5 L273.0 275.5 L274.0 275.5 L275.0 275.5 L276.0 274.5 L277.0 274.5 L278.0 274.5 L279.0 274.5 L280.0 273.5 L281.0 272.5 L282.0 272.5 L283.0 272.5 L284.0 271.5 L285.0 272.5 L286.0 271.5 L287.0 271.5 L288.0 271.5 L289.0 270.5 L290.0 270.5 L291.0 269.5 L292.0 269.5 L293.0 269.5 L294.0 268.5 L295.0 267.5 L296.0 268.5 L297.0 267.5 L298.0 266.5 L299.0 265.5 L300.0 265.5 L301.0 266.5 L302.0 265.5 L303.0 265.5 L304.0 264.5 L305.0 264.5 L306.0 262.5 L307.0 262.5 L308.0 262.5 L309.0 261.5 L310.0 261.5 L311.0 260.5 L312.0 260.5 L313.0 260.5 L314.0 258.5 L315.0 258.5 L316.0 256.5 L317.0 255.5 L318.0 254.5 L319.0 254.5 L320.0 253.5 L321.0 253.5 L322.0 252.5 L323.0 253.5 L324.0 252.5 L325.0 251.5 L326.0 251.5 L327.0 251.5 L328.0 250.5 L329.0 250.5 L330.0 249.5 L331.0 250.5 L332.0 250.5 L333.0 250.5 L334.0 250.5 L335.0 250.5 L336.0 250.5 L337.0 250.5 L338.0 251.5 L339.0 251.5 L340.0 252.5 L341.0 251.5 L342.0 251.5 L343.0 251.5 L344.0 252.5 L345.0 252.5 L346.0 252.5 L347.0 252.5 L348.0 253.5 L349.0 253.5 L350.0 253.5 L351.0 254.5 L352.0 255.5 L353.0 255.5 L354.0 255.5 L355.0 256.5 L356.0 257.5 L357.0 257.5 L358.0 257.5 L359.0 258.5 L360.0 258.5 L361.0 258.5 L362.0 258.5 L363.0 259.5 L364.0 259.5 L365.0 260.5 L366.0 260.5 L367.0 260.5 L368.0 260.5 L369.0 261.5 L370.0 262.5 L371.0 262.5 L372.0 262.5 L373.0 262.5 L374.0 262.5 L375.0 262.5 L376.0 262.5 L377.0 263.5 L378.0 262.5 L379.0 262.5 L380.0 262.5 L381.0 262.5 L382.0 262.5 L383.0 261.5 L384.0 262.5 L385.0 263.5 L386.0 262.5 L387.0 262.5 L388.0 262.5 L389.0 261.5 L390.0 261.5 L391.0 260.5 L392.0 260.5 L393.0 259.5 L394.0 258.5 L395.0 259.5 L396.0 258.5 L397.0 258.5 L398.0 258.5 L399.0 257.5 L400.0 256.5 L401.0 256.5 L402.0 255.5 L403.0 255.5 L404.0 254.5 L405.0 253.5 L406.0 251.5 L407.0 250.5 L408.0 249.5 L409.0 248.5 L410.0 248.5 L411.0 247.5 L412.0 245.5 L413.0 242.5 L414.0 242.5 L415.0 240.5 L416.0 240.5 L417.0 238.5 L418.0 238.5 L419.0 238.5 L420.0 236.5 L421.0 236.5 L422.0 236.5 L423.0 236.5 L424.0 236.5 L425.0 237.5 L426.0 238.5 L427.0 240.5 L428.0 243.5 L429.0 245.5 L430.0 247.5 L431.0 249.5 L432.0 253.5 L433.0 255.5 L434.0 257.5 L435.0 259.5 L436.0 261.5 L437.0 263.5 L438.0 265.5 L439.0 266.5 L440.0 269.5 L441.0 269.5 L442.0 270.5 L443.0 271.5 L444.0 272.5 L445.0 273.5 L446.0 274.5 L447.0 274.5 L448.0 274.5 L449.0 274.5 L450.0 275.5 L451.0 276.5 L452.0 276.5 L453.0 277.5 L454.0 276.5 L455.0 276.5 L456.0 277.5 L457.0 278.5 L458.0 278.5 L459.0 278.5 L460.0 278.5 L461.0 278.5 L462.0 279.5 L463.0 279.5 L464.0 279.5 L465.0 280.5 L466.0 280.5 L467.0 279.5 L468.0 280.5 L469.0 280.5 L470.0 280.5 L471.0 280.5 L472.0 281.5 L473.0 280.5 L474.0 280.5 L475.0 280.5 L476.0 281.5 L477.0 280.5 L478.0 280.5 L479.0 280.5 L480.0 281.5 L481.0 282.5 L482.0 281.5 L483.0 282.5 L484.0 282.5 L485.0 282.5 L486.0 283.5 L487.0 282.5 L488.0 282.5 L489.0 282.5 L490.0 282.5 L491.0 282.5 L492.0 282.5 L493.0 283.5 L494.0 283.5 L495.0 283.5 L496.0 283.5 L497.0 283.5 L498.0 283.5 L499.0 283.5 L500.0 283.5 L501.0 283.5 L502.0 283.5 L503.0 283.5 L504.0 283.5 L505.0 282.5 L506.0 282.5 L507.0 283.5 L508.0 283.5 L509.0 282.5 L510.0 282.5 L511.0 283.5 L512.0 283.5 L513.0 284.5 L514.0 284.5 L515.0 284.5 L516.0 283.5 L517.0 283.5 L518.0 284.5 L519.0 284.5 L520.0 283.5 L521.0 283.5 L522.0 283.5 L523.0 283.5 L524.0 283.5 L525.0 283.5 L526.0 283.5 L527.0 284.5 L528.0 284.5 L529.0 283.5 L530.0 284.5 L531.0 284.5 L532.0 283.5 L533.0 283.5 L534.0 283.5 L535.0 283.5 L536.0 284.5 L537.0 284.5 L538.0 284.5 L539.0 284.5 L540.0 283.5 L541.0 283.5 L542.0 283.5 L543.0 284.5 L544.0 284.5 L545.0 284.5 L546.0 284.5 L547.0 283.5 L548.0 283.5 L549.0 283.5 L550.0 283.5 L551.0 284.5 L552.0 283.5 L553.0 284.5 L554.0 284.5 L555.0 284.5 L556.0 284.5 L557.0 283.5 L558.0 284.5 L559.0 284.5 L560.0 284.5 L561.0 284.5 L562.0 283.5 L563.0 284.5 L564.0 284.5 L565.0 284.5 L566.0 284.5 L567.0 283.5 L568.0 283.5 L569.0 283.5 L570.0 283.5 L571.0 283.5 L572.0 283.5 L573.0 284.5 L574.0 284.5 L575.0 283.5 L576.0 284.5 L577.0 284.5 L578.0 284.5 L579.0 283.5 L580.0 283.5 L581.0 284.5 L582.0 285.5 L583.0 284.5 L584.0 283.5 L585.0 284.5 L586.0 284.5 L587.0 284.5 L588.0 284.5 L589.0 284.5 L590.0 284.5 L591.0 284.5 L592.0 284.5 L593.0 284.5 L594.0 284.5 L595.0 283.5 L596.0 284.5 L597.0 284.5 L598.0 283.5 L599.0 283.5 L600.0 284.5 L601.0 284.5 L602.0 285.5" stroke="#000000"/>
<path d="M72.0 255.5 L73.0 255.5 L74.0 255.5 L75.0 254.5 L76.0 255.5 L77.0 255.5 L78.0 255.5 L79.0 256.5 L80.0 256.5 L81.0 256.5 L82.0 255.5 L83.0 255.5 L84.0 255.5 L85.0 255.5 L86.0 255.5 L87.0 255.5 L88.0 254.5 L89.0 254.5 L90.0 256.5 L91.0 256.5 L92.0 255.5 L93.0 255.5 L94.0 255.5 L95.0 255.5 L96.0 255.5 L97.0 254.5 L98.0 255.5 L99.0 254.5 L100.0 255.5 L101.0 255.5 L102.0 256.5 L103.0 255.5 L104.0 254.5 L105.0 254.5 L106.0 255.5 L107.0 255.5 L108.0 255.5 L109.0 255.5 L110.0 254.5 L111.0 253.5 L112.0 254.5 L113.0 254.5 L114.0 255.5 L115.0 254.5 L116.0 253.5 L117.0 254.5 L118.0 254.5 L119.0 254.5 L120.0 254.5 L121.0 254.5 L122.0 254.5 L123.0 253.5 L124.0 253.5 L125.0 253.5 L126.0 253.5 L127.0 254.5 L128.0 255.5 L129.0 254.5 L130.0 253.5 L131.0 254.5 L132.0 254.5 L133.0 254.5 L134.0 253.5 L135.0 254.5 L136.0 253.5 L137.0 254.5 L138.0 254.5 L139.0 253.5 L140.0 253.5 L141.0 252.5 L142.0 252.5 L143.0 253.5 L144.0 253.5 L145.0 253.5 L146.0 253.5 L147.0 253.5 L148.0 254.5 L149.0 252.5 L150.0 253.5 L151.0 254.5 L152.0 253.5 L153.0 253.5 L154.0 253.5 L155.0 253.5 L156.0 253.5 L157.0 253.5 L158.0 253.5 L159.0 253.5 L160.0 253.5 L161.0 253.5 L162.0 253.5 L163.0 253.5 L164.0 252.5 L165.0 252.5 L166.0 253.5 L167.0 252.5 L168.0 253.5 L169.0 253.5 L170.0 254.5 L171.0 253.5 L172.0 253.5 L173.0 253.5 L174.0 253.5 L175.0 254.5 L176.0 253.5 L177.0 253.5 L178.0 252.5 L179.0 253.5 L180.0 253.5 L181.0 254.5 L182.0 253.5 L183.0 254.5 L184.0 254.5 L185.0 253.5 L186.0 252.5 L187.0 253.5 L188.0 253.5 L189.0 253.5 L190.0 253.5 L191.0 254.5 L192.0 254.5 L193.0 253.5 L194.0 253.5 L195.0 253.5 L196.0 253.5 L197.0 253.5 L198.0 253.5 L199.0 253.5 L200.0 252.5 L201.0 253.5 L202.0 254.5 L203.0 253.5 L204.0 253.5 L205.0 253.5 L206.0 254.5 L207.0 254.5 L208.0 253.5 L209.0 254.5 L210.0 253.5 L211.0 253.5 L212.0 253.5 L213.0 253.5 L214.0 253.5 L215.0 253.5 L216.0 253.5 L217.0 253.5 L218.0 252.5 L219.0 252.5 L220.0 253.5 L221.0 253.5 L222.0 253.5 L223.0 253.5 L224.0 253.5 L225.0 253.5 L226.0 253.5 L227.0 253.5 L228.0 253.5 L229.0 252.5 L230.0 253.5 L231.0 253.5 L232.0 253.5 L233.0 253.5 L234.0 253.5 L235.0 253.5 L236.0 253.5 L237.0 254.5 L238.0 252.5 L239.0 252.5 L240.0 253.5 L241.0 253.5 L242.0 252.5 L243.0 252.5 L244.0 252.5 L245.0 252.5 L246.0 252.5 L247.0 252.5 L248.0 252.5 L249.0 251.5 L250.0 251.5 L251.0 251.5 L252.0 251.5 L253.0 252.5 L254.0 251.5 L255.0 251.5 L256.0 251.5 L257.0 251.5 L258.0 251.5 L259.0 250.5 L260.0 250.5 L261.0 249.5 L262.0 250.5 L263.0 250.5 L264.0 249.5 L265.0 249.5 L266.0 249.5 L267.0 249.5 L268.0 249.5 L269.0 249.5 L270.0 249.5 L271.0 249.5 L272.0 248.5 L273.0 249.5 L274.0 248.5 L275.0 248.5 L276.0 248.5 L277.0 248.5 L278.0 247.5 L279.0 247.5 L280.0 247.5 L281.0 246.5 L282.0 247.5 L283.0 247.5 L284.0 246.5 L285.0 246.5 L286.0 246.5 L287.0 246.5 L288.0 246.5 L289.0 245.5 L290.0 245.5 L291.0 244.5 L292.0 244.5 L293.0 244.5 L294.0 244.5 L295.0 244.5 L296.0 244.5 L297.0 244.5 L298.0 244.5 L299.0 243.5 L300.0 242.5 L301.0 241.5 L302.0 241.5 L303.0 242.5 L304.0 241.5 L305.0 241.5 L306.0 240.5 L307.0 240.5 L308.0 240.5 L309.0 239.5 L310.0 239.5 L311.0 239.5 L312.0 239.5 L313.0 237.5 L314.0 237.5 L315.0 237.5 L316.0 236.5 L317.0 235.5 L318.0 235.5 L319.0 234.5 L320.0 234.5 L321.0 233.5 L322.0 233.5 L323.0 233.5 L324.0 233.5 L325.0 233.5 L326.0 232.5 L327.0 231.5 L328.0 232.5 L329.0 232.5 L330.0 233.5 L331.0 232.5 L332.0 231.5 L333.0 232.5 L334.0 232.5 L335.0 232.5 L336.0 233.5 L337.0 234.5 L338.0 233.5 L339.0 233.5 L340.0 234.5 L341.0 235.5 L342.0 234.5 L343.0 235.5 L344.0 235.5 L345.0 235.5 L346.0 235.5 L347.0 235.5 L348.0 235.5 L349.0 236.5 L350.0 236.5 L351.0 236.5 L352.0 236.5 L353.0 237.5 L354.0 236.5 L355.0 237.5 L356.0 238.5 L357.0 238.5 L358.0 239.5 L359.0 239.5 L360.0 239.5 L361.0 239.5 L362.0 239.5 L363.0 238.5 L364.0 239.5 L365.0 239.5 L366.0 239.5 L367.0 239.5 L368.0 241.5 L369.0 241.5 L370.0 241.5 L371.0 240.5 L372.0 240.5 L373.0 240.5 L374.0 240.5 L375.0 240.5 L376.0 241.5 L377.0 241.5 L378.0 240.5 L379.0 240.5 L380.0 240.5 L381.0 240.5 L382.0 241.5 L383.0 240.5 L384.0 239.5 L385.0 240.5 L386.0 241.5 L387.0 240.5 L388.0 239.5 L389.0 238.5 L390.0 239.5 L391.0 239.5 L392.0 238.5 L393.0 239.5 L394.0 238.5 L395.0 237.5 L396.0 237.5 L397.0 238.5 L398.0 238.5 L399.0 237.5 L400.0 236.5 L401.0 236.5 L402.0 236.5 L403.0 235.5 L404.0 235.5 L405.0 234.5 L406.0 234.5 L407.0 233.5 L408.0 232.5 L409.0 232.5 L410.0 232.5 L411.0 232.5 L412.0 232.5 L413.0 231.5 L414.0 230.5 L415.0 230.5 L416.0 230.5 L417.0 230.5 L418.0 229.5 L419.0 229.5 L420.0 228.5 L421.0 228.5 L422.0 228.5 L423.0 228.5 L424.0 229.5 L425.0 230.5 L426.0 231.5 L427.0 232.5 L428.0 233.5 L429.0 234.5 L430.0 235.5 L431.0 235.5 L432.0 236.5 L433.0 238.5 L434.0 239.5 L435.0 240.5 L436.0 241.5 L437.0 243.5 L438.0 244.5 L439.0 244.5 L440.0 245.5 L441.0 245.5 L442.0 246.5 L443.0 247.5 L444.0 248.5 L445.0 248.5 L446.0 249.5 L447.0 249.5 L448.0 249.5 L449.0 249.5 L450.0 250.5 L451.0 250.5 L452.0 250.5 L453.0 251.5 L454.0 251.5 L455.0 251.5 L456.0 251.5 L457.0 251.5 L458.0 252.5 L459.0 251.5 L460.0 251.5 L461.0 252.5 L462.0 251.5 L463.0 250.5 L464.0 251.5 L465.0 252.5 L466.0 252.5 L467.0 252.5 L468.0 252.5 L469.0 252.5 L470.0 252.5 L471.0 252.5 L472.0 252.5 L473.0 253.5 L474.0 252.5 L475.0 253.5 L476.0 253.5 L477.0 252.5 L478.0 252.5 L479.0 253.5 L480.0 252.5 L481.0 253.5 L482.0 252.5 L483.0 253.5 L484.0 253.5 L485.0 253.5 L486.0 252.5 L487.0 252.5 L488.0 253.5 L489.0 253.5 L490.0 253.5 L491.0 253.5 L492.0 253.5 L493.0 253.5 L494.0 253.5 L495.0 253.5 L496.0 253.5 L497.0 253.5 L498.0 253.5 L499.0 253.5 L500.0 253.5 L501.0 253.5 L502.0 254.5 L503.0 254.5 L504.0 253.5 L505.0 253.5 L506.0 254.5 L507.0 253.5 L508.0 253.5 L509.0 253.5 L510.0 254.5 L511.0 253.5 L512.0 253.5 L513.0 253.5 L514.0 253.5 L515.0 254.5 L516.0 253.5 L517.0 254.5 L518.0 253.5 L519.0 253.5 L520.0 253.5 L521.0 253.5 L522.0 253.5 L523.0 254.5 L524.0 252.5 L525.0 252.5 L526.0 253.5 L527.0 253.5 L528.0 253.5 L529.0 253.5 L530.0 253.5 L531.0 253.5 L532.0 253.5 L533.0 253.5 L534.0 254.5 L535.0 254.5 L536.0 253.5 L537.0 252.5 L538.0 252.5 L539.0 254.5 L540.0 253.5 L541.0 254.5 L542.0 253.5 L543.0 253.5 L544.0 253.5 L545.0 254.5 L546.0 254.5 L547.0 253.5 L548.0 253.5 L549.0 254.5 L550.0 254.5 L551.0 254.5 L552.0 253.5 L553.0 253.5 L554.0 253.5 L555.0 253.5 L556.0 254.5 L557.0 254.5 L558.0 253.5 L559.0 253.5 L560.0 254.5 L561.0 254.5 L562.0 253.5 L563.0 254.5 L564.0 253.5 L565.0 253.5 L566.0 254.5 L567.0 254.5 L568.0 254.5 L569.0 254.5 L570.0 254.5 L571.0 254.5 L572.0 254.5 L573.0 254.5 L574.0 254.5 L575.0 254.5 L576.0 254.5 L577.0 254.5 L578.0 253.5 L579.0 254.5 L580.0 254.5 L581.0 254.5 L582.0 254.5 L583.0 254.5 L584.0 255.5 L585.0 254.5 L586.0 253.5 L587.0 253.5 L588.0 254.5 L589.0 254.5 L590.0 253.5 L591.0 254.5 L592.0 254.5 L593.0 254.5 L594.0 254.5 L595.0 253.5 L596.0 253.5 L597.0 253.5 L598.0 253.5 L599.0 254.5 L600.0 254.5 L601.0 253.5 L602.0 254.5" stroke="#ff0000"/>
<path d="M72.0 234.5 L73.0 234.5 L74.0 234.5 L75.0 234.5 L76.0 235.5 L77.0 234.5 L78.0 234.5 L79.0 234.5 L80.0 234.5 L81.0 233.5 L82.0 233.5 L83.0 233.5 L84.0 234.5 L85.0 234.5 L86.0 233.5 L87.0 233.5 L88.0 234.5 L89.0 234.5 L90.0 234.5 L91.0 234.5 L92.0 234.5 L93.0 234.5 L94.0 234.5 L95.0 234.5 L96.0 234.5 L97.0 234.5 L98.0 235.5 L99.0 234.5 L100.0 234.5 L101.0 234.5 L102.0 233.5 L103.0 234.5 L104.0 234.5 L105.0 234.5 L106.0 234.5 L107.0 234.5 L108.0 235.5 L109.0 235.5 L110.0 234.5 L111.0 235.5 L112.0 235.5 L113.0 234.5 L114.0 233.5 L115.0 234.5 L116.0 235.5 L117.0 234.5 L118.0 234.5 L119.0 234.5 L120.0 234.5 L121.0 234.5 L122.0 234.5 L123.0 234.5 L124.0 233.5 L125.0 233.5 L126.0 234.5 L127.0 233.5 L128.0 234.5 L129.0 234.5 L130.0 234.5 L131.0 234.5 L132.0 233.5 L133.0 233.5 L134.0 233.5 L135.0 233.5 L136.0 234.5 L137.0 234.5 L138.0 233.5 L139.0 232.5 L140.0 233.5 L141.0 233.5 L142.0 233.5 L143.0 233.5 L144.0 234.5 L145.0 233.5 L146.0 233.5 L147.0 232.5 L148.0 233.5 L149.0 233.5 L150.0 232.5 L151.0 233.5 L152.0 233.5 L153.0 233.5 L154.0 233.5 L155.0 233.5 L156.0 233.5 L157.0 233.5 L158.0 232.5 L159.0 233.5 L160.0 233.5 L161.0 232.5 L162.0 233.5 L163.0 233.5 L164.0 232.5 L165.0 232.5 L166.0 233.5 L167.0 233.5 L168.0 233.5 L169.0 233.5 L170.0 234.5 L171.0 233.5 L172.0 233.5 L173.0 233.5 L174.0 232.5 L175.0 232.5 L176.0 232.5 L177.0 233.5 L178.0 234.5 L179.0 233.5 L180.0 233.5 L181.0 234.5 L182.0 234.5 L183.0 233.5 L184.0 232.5 L185.0 233.5 L186.0 233.5 L187.0 231.5 L188.0 231.5 L189.0 233.5 L190.0 232.5 L191.0 232.5 L192.0 232.5 L193.0 233.5 L194.0 232.5 L195.0 232.5 L196.0 233.5 L197.0 233.5 L198.0 233.5 L199.0 232.5 L200.0 232.5 L201.0 233.5 L202.0 233.5 L203.0 232.5 L204.0 232.5 L205.0 232.5 L206.0 232.5 L207.0 232.5 L208.0 232.5 L209.0 232.5 L210.0 233.5 L211.0 232.5 L212.0 232.5 L213.0 232.5 L214.0 232.5 L215.0 232.5 L216.0 232.5 L217.0 232.5 L218.0 232.5 L219.0 231.5 L220.0 232.5 L221.0 231.5 L222.0 230.5 L223.0 231.5 L224.0 232.5 L225.0 232.5 L226.0 231.5 L227.0 229.5 L228.0 230.5 L229.0 231.5 L230.0 231.5 L231.0 231.5 L232.0 230.5 L233.0 230.5 L234.0 230.5 L235.0 230.5 L236.0 230.5 L237.0 230.5 L238.0 230.5 L239.0 230.5 L240.0 229.5 L241.0 229.5 L242.0 229.5 L243.0 229.5 L244.0 230.5 L245.0 230.5 L246.0 229.5 L247.0 229.5 L248.0 229.5 L249.0 228.5 L250.0 228.5 L251.0 229.5 L252.0 228.5 L253.0 229.5 L254.0 228.5 L255.0 228.5 L256.0 228.5 L257.0 228.5 L258.0 228.5 L259.0 229.5 L260.0 226.5 L261.0 226.5 L262.0 226.5 L263.0 227.5 L264.0 226.5 L265.0 226.5 L266.0 225.5 L267.0 225.5 L268.0 225.5 L269.0 226.5 L270.0 225.5 L271.0 226.5 L272.0 226.5 L273.0 225.5 L274.0 225.5 L275.0 225.5 L276.0 224.5 L277.0 223.5 L278.0 224.5 L279.0 223.5 L280.0 223.5 L281.0 223.5 L282.0 222.5 L283.0 222.5 L284.0 223.5 L285.0 223.5 L286.0 222.5 L287.0 222.5 L288.0 221.5 L289.0 221.5 L290.0 221.5 L291.0 221.5 L292.0 221.5 L293.0 220.5 L294.0 220.5 L295.0 218.5 L296.0 218.5 L297.0 218.5 L298.0 217.5 L299.0 216.5 L300.0 216.5 L301.0 215.5 L302.0 215.5 L303.0 215.5 L304.0 214.5 L305.0 213.5 L306.0 214.5 L307.0 213.5 L308.0 212.5 L309.0 211.5 L310.0 210.5 L311.0 209.5 L312.0 208.5 L313.0 208.5 L314.0 208.5 L315.0 208.5 L316.0 207.5 L317.0 206.5 L318.0 205.5 L319.0 204.5 L320.0 203.5 L321.0 203.5 L322.0 203.5 L323.0 202.5 L324.0 201.5 L325.0 200.5 L326.0 201.5 L327.0 201.5 L328.0 201.5 L329.0 200.5 L330.0 199.5 L331.0 200.5 L332.0 201.5 L333.0 201.5 L334.0 201.5 L335.0 200.5 L336.0 200.5 L337.0 201.5 L338.0 201.5 L339.0 201.5 L340.0 202.5 L341.0 201.5 L342.0 202.5 L343.0 202.5 L344.0 203.5 L345.0 203.5 L346.0 203.5 L347.0 204.5 L348.0 204.5 L349.0 205.5 L350.0 206.5 L351.0 206.5 L352.0 207.5 L353.0 208.5 L354.0 207.5 L355.0 208.5 L356.0 209.5 L357.0 209.5 L358.0 209.5 L359.0 210.5 L360.0 210.5 L361.0 210.5 L362.0 210.5 L363.0 211.5 L364.0 212.5 L365.0 211.5 L366.0 212.5 L367.0 213.5 L368.0 213.5 L369.0 213.5 L370.0 214.5 L371.0 214.5 L372.0 213.5 L373.0 213.5 L374.0 213.5 L375.0 213.5 L376.0 213.5 L377.0 213.5 L378.0 213.5 L379.0 214.5 L380.0 214.5 L381.0 214.5 L382.0 214.5 L383.0 213.5 L384.0 212.5 L385.0 212.5 L386.0 213.5 L387.0 213.5 L388.0 214.5 L389.0 213.5 L390.0 212.5 L391.0 212.5 L392.0 212.5 L393.0 211.5 L394.0 211.5 L395.0 211.5 L396.0 210.5 L397.0 209.5 L398.0 209.5 L399.0 210.5 L400.0 210.5 L401.0 209.5 L402.0 209.5 L403.0 208.5 L404.0 208.5 L405.0 207.5 L406.0 206.5 L407.0 205.5 L408.0 204.5 L409.0 203.5 L410.0 203.5 L411.0 202.5 L412.0 200.5 L413.0 200.5 L414.0 199.5 L415.0 198.5 L416.0 198.5 L417.0 198.5 L418.0 197.5 L419.0 197.5 L420.0 196.5 L421.0 196.5 L422.0 196.5 L423.0 196.5 L424.0 197.5 L425.0 197.5 L426.0 199.5 L427.0 201.5 L428.0 202.5 L429.0 203.5 L430.0 205.5 L431.0 206.5 L432.0 208.5 L433.0 210.5 L434.0 211.5 L435.0 213.5 L436.0 214.5 L437.0 215.5 L438.0 217.5 L439.0 219.5 L440.0 219.5 L441.0 221.5 L442.0 223.5 L443.0 224.5 L444.0 224.5 L445.0 225.5 L446.0 226.5 L447.0 227.5 L448.0 228.5 L449.0 228.5 L450.0 228.5 L451.0 228.5 L452.0 228.5 L453.0 229.5 L454.0 229.5 L455.0 229.5 L456.0 229.5 L457.0 230.5 L458.0 230.5 L459.0 230.5 L460.0 231.5 L461.0 231.5 L462.0 231.5 L463.0 231.5 L464.0 230.5 L465.0 231.5 L466.0 231.5 L467.0 231.5 L468.0 230.5 L469.0 230.5 L470.0 231.5 L471.0 231.5 L472.0 231.5 L473.0 231.5 L474.0 230.5 L475.0 231.5 L476.0 231.5 L477.0 231.5 L478.0 232.5 L479.0 232.5 L480.0 232.5 L481.0 232.5 L482.0 232.5 L483.0 232.5 L484.0 232.5 L485.0 232.5 L486.0 232.5 L487.0 232.5 L488.0 232.5 L489.0 232.5 L490.0 232.5 L491.0 231.5 L492.0 232.5 L493.0 233.5 L494.0 232.5 L495.0 231.5 L496.0 231.5 L497.0 232.5 L498.0 233.5 L499.0 232.5 L500.0 232.5 L501.0 231.5 L502.0 232.5 L503.0 232.5 L504.0 232.5 L505.0 231.5 L506.0 232.5 L507.0 232.5 L508.0 233.5 L509.0 232.5 L510.0 232.5 L511.0 232.5 L512.0 232.5 L513.0 232.5 L514.0 233.5 L515.0 233.5 L516.0 232.5 L517.0 232.5 L518.0 233.5 L519.0 233.5 L520.0 232.5 L521.0 232.5 L522.0 233.5 L523.0 232.5 L524.0 232.5 L525.0 232.5 L526.0 232.5 L527.0 232.5 L528.0 232.5 L529.0 232.5 L530.0 233.5 L531.0 233.5 L532.0 231.5 L533.0 231.5 L534.0 232.5 L535.0 233.5 L536.0 234.5 L537.0 233.5 L538.0 232.5 L539.0 232.5 L540.0 233.5 L541.0 233.5 L542.0 232.5 L543.0 233.5 L544.0 233.5 L545.0 232.5 L546.0 232.5 L547.0 233.5 L548.0 233.5 L549.0 232.5 L550.0 232.5 L551.0 233.5 L552.0 233.5 L553.0 232.5 L554.0 232.5 L555.0 233.5 L556.0 233.5 L557.0 232.5 L558.0 234.5 L559.0 233.5 L560.0 232.5 L561.0 232.5 L562.0 232.5 L563.0 232.5 L564.0 233.5 L565.0 234.5 L566.0 234.5 L567.0 233.5 L568.0 233.5 L569.0 233.5 L570.0 233.5 L571.0 233.5 L572.0 233.5 L573.0 234.5 L574.0 234.5 L575.0 233.5 L576.0 233.5 L577.0 233.5 L578.0 233.5 L579.0 233.5 L580.0 233.5 L581.0 233.5 L582.0 233.5 L583.0 234.5 L584.0 233.5 L585.0 233.5 L586.0 232.5 L587.0 233.5 L588.0 232.5 L589.0 232.5 L590.0 233.5 L591.0 233.5 L592.0 233.5 L593.0 233.5 L594.0 233.5 L595.0 234.5 L596.0 234.5 L597.0 233.5 L598.0 234.5 L599.0 234.5 L600.0 233.5 L601.0 233.5 L602.0 233.5" stroke="#00ff00"/>
<path d="M72.0 202.5 L73.0 203.5 L74.0 203.5 L75.0 202.5 L76.0 203.5 L77.0 203.5 L78.0 202.5 L79.0 202.5 L80.0 203.5 L81.0 203.5 L82.0 203.5 L83.0 203.5 L84.0 202.5 L85.0 202.5 L86.0 202.5 L87.0 202.5 L88.0 201.5 L89.0 201.5 L90.0 202.5 L91.0 203.5 L92.0 202.5 L93.0 202.5 L94.0 202.5 L95.0 201.5 L96.0 202.5 L97.0 202.5 L98.0 202.5 L99.0 201.5 L100.0 202.5 L101.0 202.5 L102.0 202.5 L103.0 202.5 L104.0 202.5 L105.0 202.5 L106.0 202.5 L107.0 203.5 L108.0 203.5 L109.0 202.5 L110.0 201.5 L111.0 201.5 L112.0 201.5 L113.0 202.5 L114.0 201.5 L115.0 200.5 L116.0 202.5 L117.0 201.5 L118.0 201.5 L119.0 201.5 L120.0 200.5 L121.0 201.5 L122.0 200.5 L123.0 200.5 L124.0 201.5 L125.0 200.5 L126.0 199.5 L127.0 198.5 L128.0 199.5 L129.0 198.5 L130.0 197.5 L131.0 197.5 L132.0 197.5 L133.0 196.5 L134.0 197.5 L135.0 197.5 L136.0 197.5 L137.0 197.5 L138.0 197.5 L139.0 197.5 L140.0 197.5 L141.0 197.5 L142.0 197.5 L143.0 198.5 L144.0 198.5 L145.0 199.5 L146.0 199.5 L147.0 199.5 L148.0 198.5 L149.0 199.5 L150.0 199.5 L151.0 199.5 L152.0 200.5 L153.0 199.5 L154.0 201.5 L155.0 201.5 L156.0 200.5 L157.0 199.5 L158.0 200.5 L159.0 200.5 L160.0 201.5 L161.0 201.5 L162.0 202.5 L163.0 202.5 L164.0 201.5 L165.0 202.5 L166.0 202.5 L167.0 201.5 L168.0 201.5 L169.0 201.5 L170.0 201.5 L171.0 202.5 L172.0 202.5 L173.0 202.5 L174.0 201.5 L175.0 200.5 L176.0 201.5 L177.0 201.5 L178.0 201.5 L179.0 201.5 L180.0 201.5 L181.0 202.5 L182.0 202.5 L183.0 202.5 L184.0 202.5 L185.0 202.5 L186.0 203.5 L187.0 203.5 L188.0 203.5 L189.0 203.5 L190.0 202.5 L191.0 203.5 L192.0 204.5 L193.0 204.5 L194.0 203.5 L195.0 203.5 L196.0 202.5 L197.0 203.5 L198.0 204.5 L199.0 202.5 L200.0 204.5 L201.0 204.5 L202.0 204.5 L203.0 203.5 L204.0 203.5 L205.0 204.5 L206.0 204.5 L207.0 205.5 L208.0 204.5 L209.0 204.5 L210.0 204.5 L211.0 204.5 L212.0 204.5 L213.0 205.5 L214.0 206.5 L215.0 205.5 L216.0 204.5 L217.0 204.5 L218.0 204.5 L219.0 205.5 L220.0 205.5 L221.0 204.5 L222.0 205.5 L223.0 206.5 L224.0 206.5 L225.0 205.5 L226.0 206.5 L227.0 206.5 L228.0 205.5 L229.0 205.5 L230.0 207.5 L231.0 205.5 L232.0 206.5 L233.0 206.5 L234.0 206.5 L235.0 206.5 L236.0 206.5 L237.0 205.5 L238.0 205.5 L239.0 206.5 L240.0 206.5 L241.0 205.5 L242.0 205.5 L243.0 206.5 L244.0 206.5 L245.0 205.5 L246.0 204.5 L247.0 205.5 L248.0 205.5 L249.0 206.5 L250.0 205.5 L251.0 204.5 L252.0 204.5 L253.0 204.5 L254.0 203.5 L255.0 204.5 L256.0 204.5 L257.0 204.5 L258.0 205.5 L259.0 204.5 L260.0 204.5 L261.0 204.5 L262.0 204.5 L263.0 204.5 L264.0 204.5 L265.0 203.5 L266.0 203.5 L267.0 203.5 L268.0 203.5 L269.0 203.5 L270.0 203.5 L271.0 203.5 L272.0 203.5 L273.0 202.5 L274.0 202.5 L275.0 202.5 L276.0 202.5 L277.0 202.5 L278.0 201.5 L279.0 200.5 L280.0 202.5 L281.0 202.5 L282.0 201.5 L283.0 201.5 L284.0 202.5 L285.0 201.5 L286.0 200.5 L287.0 200.5 L288.0 200.5 L289.0 200.5 L290.0 200.5 L291.0 200.5 L292.0 200.5 L293.0 199.5 L294.0 200.5 L295.0 201.5 L296.0 199.5 L297.0 199.5 L298.0 198.5 L299.0 198.5 L300.0 197.5 L301.0 196.5 L302.0 197.5 L303.0 197.5 L304.0 195.5 L305.0 196.5 L306.0 196.5 L307.0 195.5 L308.0 193.5 L309.0 193.5 L310.0 193.5 L311.0 191.5 L312.0 189.5 L313.0 189.5 L314.0 189.5 L315.0 188.5 L316.0 186.5 L317.0 185.5 L318.0 184.5 L319.0 183.5 L320.0 184.5 L321.0 183.5 L322.0 182.5 L323.0 181.5 L324.0 181.5 L325.0 180.5 L326.0 180.5 L327.0 179.5 L328.0 179.5 L329.0 178.5 L330.0 178.5 L331.0 178.5 L332.0 181.5 L333.0 182.5 L334.0 182.5 L335.0 183.5 L336.0 183.5 L337.0 184.5 L338.0 185.5 L339.0 185.5 L340.0 186.5 L341.0 188.5 L342.0 189.5 L343.0 189.5 L344.0 190.5 L345.0 191.5 L346.0 192.5 L347.0 193.5 L348.0 193.5 L349.0 193.5 L350.0 193.5 L351.0 194.5 L352.0 194.5 L353.0 194.5 L354.0 195.5 L355.0 194.5 L356.0 194.5 L357.0 193.5 L358.0 195.5 L359.0 195.5 L360.0 194.5 L361.0 195.5 L362.0 195.5 L363.0 195.5 L364.0 196.5 L365.0 196.5 L366.0 197.5 L367.0 196.5 L368.0 196.5 L369.0 196.5 L370.0 198.5 L371.0 197.5 L372.0 197.5 L373.0 195.5 L374.0 196.5 L375.0 196.5 L376.0 196.5 L377.0 198.5 L378.0 197.5 L379.0 197.5 L380.0 196.5 L381.0 196.5 L382.0 196.5 L383.0 196.5 L384.0 195.5 L385.0 194.5 L386.0 193.5 L387.0 192.5 L388.0 193.5 L389.0 193.5 L390.0 193.5 L391.0 193.5 L392.0 193.5 L393.0 191.5 L394.0 191.5 L395.0 191.5 L396.0 190.5 L397.0 188.5 L398.0 187.5 L399.0 187.5 L400.0 186.5 L401.0 184.5 L402.0 182.5 L403.0 180.5 L404.0 176.5 L405.0 172.5 L406.0 169.5 L407.0 167.5 L408.0 162.5 L409.0 157.5 L410.0 153.5 L411.0 157.5 L412.0 159.5 L413.0 163.5 L414.0 164.5 L415.0 168.5 L416.0 171.5 L417.0 174.5 L418.0 175.5 L419.0 178.5 L420.0 182.5 L421.0 183.5 L422.0 184.5 L423.0 185.5 L424.0 187.5 L425.0 189.5 L426.0 191.5 L427.0 192.5 L428.0 194.5 L429.0 196.5 L430.0 197.5 L431.0 196.5 L432.0 197.5 L433.0 199.5 L434.0 199.5 L435.0 200.5 L436.0 201.5 L437.0 202.5 L438.0 201.5 L439.0 201.5 L440.0 201.5 L441.0 203.5 L442.0 203.5 L443.0 202.5 L444.0 203.5 L445.0 203.5 L446.0 203.5 L447.0 204.5 L448.0 205.5 L449.0 206.5 L450.0 206.5 L451.0 206.5 L452.0 207.5 L453.0 207.5 L454.0 207.5 L455.0 207.5 L456.0 206.5 L457.0 205.5 L458.0 205.5 L459.0 206.5 L460.0 205.5 L461.0 203.5 L462.0 203.5 L463.0 203.5 L464.0 202.5 L465.0 204.5 L466.0 204.5 L467.0 203.5 L468.0 203.5 L469.0 203.5 L470.0 202.5 L471.0 204.5 L472.0 203.5 L473.0 203.5 L474.0 204.5 L475.0 205.5 L476.0 204.5 L477.0 205.5 L478.0 205.5 L479.0 204.5 L480.0 203.5 L481.0 202.5 L482.0 203.5 L483.0 202.5 L484.0 202.5 L485.0 202.5 L486.0 203.5 L487.0 204.5 L488.0 204.5 L489.0 204.5 L490.0 204.5 L491.0 204.5 L492.0 204.5 L493.0 204.5 L494.0 205.5 L495.0 204.5 L496.0 204.5 L497.0 205.5 L498.0 206.5 L499.0 206.5 L500.0 205.5 L501.0 205.5 L502.0 204.5 L503.0 204.5 L504.0 205.5 L505.0 205.5 L506.0 205.5 L507.0 204.5 L508.0 205.5 L509.0 205.5 L510.0 204.5 L511.0 206.5 L512.0 205.5 L513.0 205.5 L514.0 205.5 L515.0 206.5 L516.0 206.5 L517.0 206.5 L518.0 206.5 L519.0 205.5 L520.0 206.5 L521.0 206.5 L522.0 205.5 L523.0 205.5 L524.0 205.5 L525.0 206.5 L526.0 207.5 L527.0 207.5 L528.0 206.5 L529.0 206.5 L530.0 206.5 L531.0 205.5 L532.0 206.5 L533.0 206.5 L534.0 205.5 L535.0 205.5 L536.0 205.5 L537.0 206.5 L538.0 206.5 L539.0 206.5 L540.0 206.5 L541.0 206.5 L542.0 205.5 L543.0 204.5 L544.0 205.5 L545.0 205.5 L546.0 207.5 L547.0 207.5 L548.0 206.5 L549.0 206.5 L550.0 204.5 L551.0 204.5 L552.0 205.5 L553.0 206.5 L554.0 205.5 L555.0 206.5 L556.0 206.5 L557.0 205.5 L558.0 205.5 L559.0 205.5 L560.0 206.5 L561.0 205.5 L562.0 205.5 L563.0 206.5 L564.0 205.5 L565.0 205.5 L566.0 206.5 L567.0 205.5 L568.0 205.5 L569.0 205.5 L570.0 206.5 L571.0 206.5 L572.0 205.5 L573.0 205.5 L574.0 204.5 L575.0 205.5 L576.0 204.5 L577.0 205.5 L578.0 206.5 L579.0 205.5 L580.0 205.5 L581.0 205.5 L582.0 206.5 L583.0 205.5 L584.0 205.5 L585.0 205.5 L586.0 206.5 L587.0 205.5 L588.0 205.5 L589.0 205.5 L590.0 205.5 L591.0 205.5 L592.0 206.5 L593.0 206.5 L594.0 207.5 L595.0 206.5 L596.0 205.5 L597.0 206.5 L598.0 206.5 L599.0 206.5 L600.0 206.5 L601.0 206.5 L602.0 205.5" stroke="#0000ff"/>
<path d="M72.0 429.5 L73.0 429.5 L74.0 429.5 L75.0 429.5 L76.0 429.5 L77.0 428.5 L78.0 428.5 L79.0 428.5 L80.0 428.5 L81.0 428.5 L82.0 428.5 L83.0 428.5 L84.0 428.5 L85.0 429.5 L86.0 428.5 L87.0 428.5 L88.0 429.5 L89.0 429.5 L90.0 429.5 L91.0 428.5 L92.0 428.5 L93.0 428.5 L94.0 428.5 L95.0 429.5 L96.0 429.5 L97.0 429.5 L98.0 428.5 L99.0 428.5 L100.0 428.5 L101.0 428.5 L102.0 428.5 L103.0 428.5 L104.0 429.5 L105.0 429.5 L106.0 429.5 L107.0 429.5 L108.0 428.5 L109.0 428.5 L110.0 429.5 L111.0 429.5 L112.0 429.5 L113.0 429.5 L114.0 429.5 L115.0 428.5 L116.0 428.5 L117.0 429.5 L118.0 428.5 L119.0 428.5 L120.0 428.5 L121.0 429.5 L122.0 428.5 L123.0 428.5 L124.0 428.5 L125.0 428.5 L126.0 428.5 L127.0 428.5 L128.0 428.5 L129.0 428.5 L130.0 428.5 L131.0 428.5 L132.0 428.5 L133.0 428.5 L134.0 428.5 L135.0 428.5 L136.0 428.5 L137.0 427.5 L138.0 428.5 L139.0 428.5 L140.0 428.5 L141.0 428.5 L142.0 428.5 L143.0 428.5 L144.0 428.5 L145.0 428.5 L146.0 428.5 L147.0 427.5 L148.0 427.5 L149.0 428.5 L150.0 428.5 L151.0 428.5 L152.0 428.5 L153.0 428.5 L154.0 428.5 L155.0 428.5 L156.0 428.5 L157.0 428.5 L158.0 428.5 L159.0 428.5 L160.0 428.5 L161.0 427.5 L162.0 428.5 L163.0 428.5 L164.0 428.5 L165.0 428.5 L166.0 428.5 L167.0 428.5 L168.0 428.5 L169.0 428.5 L170.0 427.5 L171.0 428.5 L172.0 428.5 L173.0 427.5 L174.0 428.5 L175.0 427.5 L176.0 428.5 L177.0 428.5 L178.0 428.5 L179.0 427.5 L180.0 427.5 L181.0 428.5 L182.0 428.5 L183.0 428.5 L184.0 428.5 L185.0 428.5 L186.0 427.5 L187.0 428.5 L188.0 427.5 L189.0 427.5 L190.0 428.5 L191.0 427.5 L192.0 428.5 L193.0 428.5 L194.0 428.5 L195.0 428.5 L196.0 428.5 L197.0 428.5 L198.0 428.5 L199.0 428.5 L200.0 428.5 L201.0 428.5 L202.0 428.5 L203.0 428.5 L204.0 428.5 L205.0 428.5 L206.0 428.5 L207.0 428.5 L208.0 428.5 L209.0 428.5 L210.0 427.5 L211.0 427.5 L212.0 427.5 L213.0 427.5 L214.0 427.5 L215.0 427.5 L216.0 427.5 L217.0 428.5 L218.0 428.5 L219.0 428.5 L220.0 428.5 L221.0 428.5 L222.0 428.5 L223.0 428.5 L224.0 428.5 L225.0 427.5 L226.0 427.5 L227.0 428.5 L228.0 428.5 L229.0 427.5 L230.0 427.5 L231.0 427.5 L232.0 427.5 L233.0 427.5 L234.0 427.5 L235.0 427.5 L236.0 427.5 L237.0 427.5 L238.0 426.5 L239.0 427.5 L240.0 428.5 L241.0 427.5 L242.0 426.5 L243.0 427.5 L244.0 427.5 L245.0 427.5 L246.0 427.5 L247.0 426.5 L248.0 427.5 L249.0 427.5 L250.0 427.5 L251.0 426.5 L252.0 427.5 L253.0 427.5 L254.0 426.5 L255.0 427.5 L256.0 427.5 L257.0 426.5 L258.0 426.5 L259.0 426.5 L260.0 426.5 L261.0 426.5 L262.0 425.5 L263.0 425.5 L264.0 425.5 L265.0 426.5 L266.0 425.5 L267.0 426.5 L268.0 425.5 L269.0 426.5 L270.0 425.5 L271.0 426.5 L272.0 425.5 L273.0 425.5 L274.0 425.5 L275.0 424.5 L276.0 424.5 L277.0 424.5 L278.0 424.5 L279.0 424.5 L280.0 423.5 L281.0 422.5 L282.0 423.5 L283.0 423.5 L284.0 423.5 L285.0 422.5 L286.0 422.5 L287.0 422.5 L288.0 422.5 L289.0 421.5 L290.0 421.5 L291.0 420.5 L292.0 420.5 L293.0 421.5 L294.0 420.5 L295.0 420.5 L296.0 420.5 L297.0 419.5 L298.0 419.5 L299.0 419.5 L300.0 419.5 L301.0 419.5 L302.0 418.5 L303.0 418.5 L304.0 418.5 L305.0 417.5 L306.0 417.5 L307.0 417.5 L308.0 417.5 L309.0 417.5 L310.0 416.5 L311.0 416.5 L312.0 415.5 L313.0 415.5 L314.0 415.5 L315.0 415.5 L316.0 415.5 L317.0 414.5 L318.0 414.5 L319.0 413.5 L320.0 413.5 L321.0 413.5 L322.0 414.5 L323.0 413.5 L324.0 413.5 L325.0 413.5 L326.0 412.5 L327.0 412.5 L328.0 412.5 L329.0 412.5 L330.0 413.5 L331.0 412.5 L332.0 412.5 L333.0 412.5 L334.0 411.5 L335.0 412.5 L336.0 412.5 L337.0 413.5 L338.0 412.5 L339.0 412.5 L340.0 412.5 L341.0 413.5 L342.0 413.5 L343.0 413.5 L344.0 414.5 L345.0 413.5 L346.0 413.5 L347.0 414.5 L348.0 414.5 L349.0 414.5 L350.0 414.5 L351.0 414.5 L352.0 415.5 L353.0 415.5 L354.0 415.5 L355.0 415.5 L356.0 416.5 L357.0 415.5 L358.0 416.5 L359.0 416.5 L360.0 416.5 L361.0 416.5 L362.0 416.5 L363.0 416.5 L364.0 416.5 L365.0 417.5 L366.0 417.5 L367.0 417.5 L368.0 417.5 L369.0 417.5 L370.0 417.5 L371.0 417.5 L372.0 417.5 L373.0 417.5 L374.0 417.5 L375.0 417.5 L376.0 417.5 L377.0 417.5 L378.0 417.5 L379.0 418.5 L380.0 417.5 L381.0 418.5 L382.0 417.5 L383.0 417.5 L384.0 417.5 L385.0 417.5 L386.0 417.5 L387.0 417.5 L388.0 416.5 L389.0 417.5 L390.0 417.5 L391.0 417.5 L392.0 416.5 L393.0 416.5 L394.0 416.5 L395.0 416.5 L396.0 416.5 L397.0 416.5 L398.0 415.5 L399.0 415.5 L400.0 415.5 L401.0 414.5 L402.0 413.5 L403.0 413.5 L404.0 413.5 L405.0 413.5 L406.0 412.5 L407.0 412.5 L408.0 412.5 L409.0 411.5 L410.0 411.5 L411.0 411.5 L412.0 410.5 L413.0 409.5 L414.0 409.5 L415.0 409.5 L416.0 408.5 L417.0 407.5 L418.0 407.5 L419.0 407.5 L420.0 407.5 L421.0 407.5 L422.0 407.5 L423.0 406.5 L424.0 406.5 L425.0 407.5 L426.0 408.5 L427.0 408.5 L428.0 409.5 L429.0 409.5 L430.0 410.5 L431.0 412.5 L432.0 413.5 L433.0 414.5 L434.0 415.5 L435.0 417.5 L436.0 418.5 L437.0 418.5 L438.0 419.5 L439.0 420.5 L440.0 421.5 L441.0 420.5 L442.0 421.5 L443.0 422.5 L444.0 422.5 L445.0 422.5 L446.0 423.5 L447.0 423.5 L448.0 423.5 L449.0 424.5 L450.0 424.5 L451.0 424.5 L452.0 425.5 L453.0 425.5 L454.0 425.5 L455.0 425.5 L456.0 425.5 L457.0 425.5 L458.0 425.5 L459.0 425.5 L460.0 426.5 L461.0 426.5 L462.0 426.5 L463.0 426.5 L464.0 426.5 L465.0 426.5 L466.0 426.5 L467.0 426.5 L468.0 427.5 L469.0 426.5 L470.0 426.5 L471.0 427.5 L472.0 427.5 L473.0 426.5 L474.0 426.5 L475.0 427.5 L476.0 426.5 L477.0 426.5 L478.0 426.5 L479.0 426.5 L480.0 426.5 L481.0 426.5 L482.0 426.5 L483.0 426.5 L484.0 427.5 L485.0 427.5 L486.0 427.5 L487.0 427.5 L488.0 427.5 L489.0 427.5 L490.0 427.5 L491.0 426.5 L492.0 426.5 L493.0 426.5 L494.0 427.5 L495.0 427.5 L496.0 427.5 L497.0 427.5 L498.0 427.5 L499.0 427.5 L500.0 427.5 L501.0 426.5 L502.0 427.5 L503.0 427.5 L504.0 427.5 L505.0 427.5 L506.0 427.5 L507.0 427.5 L508.0 427.5 L509.0 427.5 L510.0 427.5 L511.0 427.5 L512.0 427.5 L513.0 427.5 L514.0 427.5 L515.0 427.5 L516.0 427.5 L517.0 427.5 L518.0 427.5 L519.0 426.5 L520.0 427.5 L521.0 427.5 L522.0 427.5 L523.0 427.5 L524.0 427.5 L525.0 427.5 L526.0 427.5 L527.0 427.5 L528.0 427.5 L529.0 427.5 L530.0 427.5 L531.0 427.5 L532.0 427.5 L533.0 427.5 L534.0 427.5 L535.0 427.5 L536.0 427.5 L537.0 426.5 L538.0 427.5 L539.0 427.5 L540.0 427.5 L541.0 427.5 L542.0 427.5 L543.0 427.5 L544.0 427.5 L545.0 427.5 L546.0 427.5 L547.0 427.5 L548.0 427.5 L549.0 427.5 L550.0 427.5 L551.0 427.5 L552.0 426.5 L553.0 426.5 L554.0 427.5 L555.0 427.5 L556.0 427.5 L557.0 427.5 L558.0 427.5 L559.0 427.5 L560.0 427.5 L561.0 427.5 L562.0 427.5 L563.0 427.5 L564.0 427.5 L565.0 427.5 L566.0 427.5 L567.0 427.5 L568.0 427.5 L569.0 426.5 L570.0 426.5 L571.0 426.5 L572.0 427.5 L573.0 427.5 L574.0 427.5 L575.0 427.5 L576.0 426.5 L577.0 427.5 L578.0 426.5 L579.0 427.5 L580.0 427.5 L581.0 427.5 L582.0 427.5 L583.0 427.5 L584.0 426.5 L585.0 427.5 L586.0 427.5 L587.0 427.5 L588.0 427.5 L589.0 427.5 L590.0 426.5 L591.0 426.5 L592.0 427.5 L593.0 427.5 L594.0 427.5 L595.0 427.5 L596.0 426.5 L597.0 426.5 L598.0 426.5 L599.0 426.5 L600.0 426.5 L601.0 426.5 L602.0 427.5" stroke="#000000"/>
<path d="M72.0 413.5 L73.0 412.5 L74.0 412.5 L75.0 412.5 L76.0 412.5 L77.0 411.5 L78.0 413.5 L79.0 413.5 L80.0 413.5 L81.0 412.5 L82.0 412.5 L83.0 412.5 L84.0 412.5 L85.0 413.5 L86.0 413.5 L87.0 413.5 L88.0 412.5 L89.0 412.5 L90.0 411.5 L91.0 412.5 L92.0 413.5 L93.0 413.5 L94.0 413.5 L95.0 411.5 L96.0 413.5 L97.0 412.5 L98.0 412.5 L99.0 412.5 L100.0 413.5 L101.0 413.5 L102.0 413.5 L103.0 412.5 L104.0 412.5 L105.0 412.5 L106.0 412.5 L107.0 412.5 L108.0 412.5 L109.0 413.5 L110.0 412.5 L111.0 412.5 L112.0 413.5 L113.0 413.5 L114.0 412.5 L115.0 412.5 L116.0 412.5 L117.0 412.5 L118.0 412.5 L119.0 412.5 L120.0 412.5 L121.0 412.5 L122.0 412.5 L123.0 412.5 L124.0 412.5 L125.0 411.5 L126.0 412.5 L127.0 412.5 L128.0 412.5 L129.0 411.5 L130.0 412.5 L131.0 412.5 L132.0 412.5 L133.0 412.5 L134.0 412.5 L135.0 412.5 L136.0 411.5 L137.0 411.5 L138.0 411.5 L139.0 411.5 L140.0 412.5 L141.0 412.5 L142.0 412.5 L143.0 412.5 L144.0 411.5 L145.0 411.5 L146.0 411.5 L147.0 412.5 L148.0 411.5 L149.0 411.5 L150.0 410.5 L151.0 411.5 L152.0 411.5 L153.0 410.5 L154.0 411.5 L155.0 411.5 L156.0 411.5 L157.0 411.5 L158.0 411.5 L159.0 411.5 L160.0 411.5 L161.0 410.5 L162.0 410.5 L163.0 409.5 L164.0 410.5 L165.0 411.5 L166.0 411.5 L167.0 410.5 L168.0 411.5 L169.0 410.5 L170.0 410.5 L171.0 410.5 L172.0 410.5 L173.0 410.5 L174.0 410.5 L175.0 411.5 L176.0 411.5 L177.0 410.5 L178.0 410.5 L179.0 410.5 L180.0 410.5 L181.0 410.5 L182.0 410.5 L183.0 410.5 L184.0 410.5 L185.0 410.5 L186.0 409.5 L187.0 410.5 L188.0 410.5 L189.0 409.5 L190.0 409.5 L191.0 410.5 L192.0 409.5 L193.0 409.5 L194.0 409.5 L195.0 410.5 L196.0 411.5 L197.0 410.5 L198.0 409.5 L199.0 410.5 L200.0 410.5 L201.0 410.5 L202.0 409.5 L203.0 410.5 L204.0 409.5 L205.0 408.5 L206.0 409.5 L207.0 409.5 L208.0 409.5 L209.0 409.5 L210.0 408.5 L211.0 408.5 L212.0 408.5 L213.0 408.5 L214.0 409.5 L215.0 409.5 L216.0 408.5 L217.0 408.5 L218.0 408.5 L219.0 408.5 L220.0 408.5 L221.0 407.5 L222.0 407.5 L223.0 408.5 L224.0 407.5 L225.0 408.5 L226.0 408.5 L227.0 407.5 L228.0 406.5 L229.0 407.5 L230.0 407.5 L231.0 407.5 L232.0 406.5 L233.0 405.5 L234.0 405.5 L235.0 406.5 L236.0 405.5 L237.0 405.5 L238.0 405.5 L239.0 404.5 L240.0 404.5 L241.0 404.5 L242.0 404.5 L243.0 404.5 L244.0 404.5 L245.0 404.5 L246.0 404.5 L247.0 403.5 L248.0 402.5 L249.0 403.5 L250.0 403.5 L251.0 402.5 L252.0 403.5 L253.0 402.5 L254.0 401.5 L255.0 401.5 L256.0 401.5 L257.0 401.5 L258.0 401.5 L259.0 400.5 L260.0 400.5 L261.0 400.5 L262.0 400.5 L263.0 400.5 L264.0 400.5 L265.0 399.5 L266.0 398.5 L267.0 398.5 L268.0 398.5 L269.0 398.5 L270.0 398.5 L271.0 398.5 L272.0 397.5 L273.0 397.5 L274.0 396.5 L275.0 396.5 L276.0 397.5 L277.0 396.5 L278.0 396.5 L279.0 395.5 L280.0 395.5 L281.0 395.5 L282.0 395.5 L283.0 394.5 L284.0 394.5 L285.0 393.5 L286.0 392.5 L287.0 392.5 L288.0 392.5 L289.0 392.5 L290.0 391.5 L291.0 391.5 L292.0 389.5 L293.0 389.5 L294.0 388.5 L295.0 388.5 L296.0 388.5 L297.0 387.5 L298.0 386.5 L299.0 386.5 L300.0 385.5 L301.0 384.5 L302.0 384.5 L303.0 383.5 L304.0 382.5 L305.0 381.5 L306.0 379.5 L307.0 379.5 L308.0 378.5 L309.0 378.5 L310.0 377.5 L311.0 377.5 L312.0 375.5 L313.0 374.5 L314.0 373.5 L315.0 372.5 L316.0 371.5 L317.0 371.5 L318.0 370.5 L319.0 369.5 L320.0 369.5 L321.0 368.5 L322.0 368.5 L323.0 367.5 L324.0 367.5 L325.0 366.5 L326.0 366.5 L327.0 366.5 L328.0 365.5 L329.0 365.5 L330.0 365.5 L331.0 365.5 L332.0 364.5 L333.0 364.5 L334.0 364.5 L335.0 365.5 L336.0 365.5 L337.0 365.5 L338.0 365.5 L339.0 366.5 L340.0 366.5 L341.0 367.5 L342.0 368.5 L343.0 368.5 L344.0 368.5 L345.0 369.5 L346.0 369.5 L347.0 369.5 L348.0 369.5 L349.0 371.5 L350.0 371.5 L351.0 372.5 L352.0 372.5 L353.0 373.5 L354.0 373.5 L355.0 374.5 L356.0 374.5 L357.0 374.5 L358.0 375.5 L359.0 375.5 L360.0 376.5 L361.0 376.5 L362.0 376.5 L363.0 376.5 L364.0 376.5 L365.0 377.5 L366.0 377.5 L367.0 378.5 L368.0 378.5 L369.0 378.5 L370.0 378.5 L371.0 379.5 L372.0 379.5 L373.0 378.5 L374.0 379.5 L375.0 380.5 L376.0 380.5 L377.0 379.5 L378.0 379.5 L379.0 379.5 L380.0 380.5 L381.0 380.5 L382.0 378.5 L383.0 377.5 L384.0 378.5 L385.0 380.5 L386.0 378.5 L387.0 377.5 L388.0 378.5 L389.0 377.5 L390.0 377.5 L391.0 376.5 L392.0 376.5 L393.0 376.5 L394.0 376.5 L395.0 376.5 L396.0 375.5 L397.0 374.5 L398.0 373.5 L399.0 373.5 L400.0 372.5 L401.0 372.5 L402.0 371.5 L403.0 370.5 L404.0 370.5 L405.0 370.5 L406.0 369.5 L407.0 368.5 L408.0 367.5 L409.0 366.5 L410.0 365.5 L411.0 365.5 L412.0 364.5 L413.0 363.5 L414.0 361.5 L415.0 360.5 L416.0 359.5 L417.0 357.5 L418.0 355.5 L419.0 355.5 L420.0 355.5 L421.0 356.5 L422.0 357.5 L423.0 358.5 L424.0 359.5 L425.0 360.5 L426.0 362.5 L427.0 364.5 L428.0 366.5 L429.0 368.5 L430.0 370.5 L431.0 373.5 L432.0 375.5 L433.0 377.5 L434.0 379.5 L435.0 382.5 L436.0 384.5 L437.0 387.5 L438.0 388.5 L439.0 390.5 L440.0 391.5 L441.0 392.5 L442.0 392.5 L443.0 393.5 L444.0 394.5 L445.0 394.5 L446.0 396.5 L447.0 397.5 L448.0 397.5 L449.0 398.5 L450.0 398.5 L451.0 399.5 L452.0 399.5 L453.0 401.5 L454.0 401.5 L455.0 401.5 L456.0 401.5 L457.0 401.5 L458.0 402.5 L459.0 402.5 L460.0 403.5 L461.0 403.5 L462.0 403.5 L463.0 403.5 L464.0 403.5 L465.0 404.5 L466.0 404.5 L467.0 404.5 L468.0 405.5 L469.0 405.5 L470.0 404.5 L471.0 404.5 L472.0 405.5 L473.0 405.5 L474.0 406.5 L475.0 406.5 L476.0 406.5 L477.0 406.5 L478.0 406.5 L479.0 406.5 L480.0 406.5 L481.0 407.5 L482.0 407.5 L483.0 407.5 L484.0 407.5 L485.0 406.5 L486.0 407.5 L487.0 407.5 L488.0 408.5 L489.0 408.5 L490.0 408.5 L491.0 408.5 L492.0 407.5 L493.0 408.5 L494.0 407.5 L495.0 407.5 L496.0 408.5 L497.0 408.5 L498.0 408.5 L499.0 409.5 L500.0 408.5 L501.0 408.5 L502.0 408.5 L503.0 409.5 L504.0 409.5 L505.0 408.5 L506.0 409.5 L507.0 409.5 L508.0 409.5 L509.0 408.5 L510.0 408.5 L511.0 408.5 L512.0 408.5 L513.0 408.5 L514.0 408.5 L515.0 409.5 L516.0 409.5 L517.0 409.5 L518.0 409.5 L519.0 409.5 L520.0 408.5 L521.0 409.5 L522.0 409.5 L523.0 408.5 L524.0 409.5 L525.0 409.5 L526.0 408.5 L527.0 409.5 L528.0 410.5 L529.0 410.5 L530.0 409.5 L531.0 409.5 L532.0 409.5 L533.0 409.5 L534.0 409.5 L535.0 409.5 L536.0 410.5 L537.0 409.5 L538.0 409.5 L539.0 409.5 L540.0 409.5 L541.0 409.5 L542.0 410.5 L543.0 409.5 L544.0 409.5 L545.0 409.5 L546.0 409.5 L547.0 409.5 L548.0 409.5 L549.0 408.5 L550.0 408.5 L551.0 409.5 L552.0 409.5 L553.0 409.5 L554.0 409.5 L555.0 409.5 L556.0 409.5 L557.0 409.5 L558.0 408.5 L559.0 409.5 L560.0 410.5 L561.0 410.5 L562.0 409.5 L563.0 409.5 L564.0 409.5 L565.0 409.5 L566.0 408.5 L567.0 409.5 L568.0 410.5 L569.0 409.5 L570.0 409.5 L571.0 409.5 L572.0 410.5 L573.0 410.5 L574.0 409.5 L575.0 409.5 L576.0 409.5 L577.0 410.5 L578.0 409.5 L579.0 409.5 L580.0 409.5 L581.0 409.5 L582.0 409.5 L583.0 409.5 L584.0 409.5 L585.0 409.5 L586.0 409.5 L587.0 409.5 L588.0 410.5 L589.0 410.5 L590.0 410.5 L591.0 409.5 L592.0 409.5 L593.0 409.5 L594.0 409.5 L595.0 409.5 L596.0 410.5 L597.0 410.5 L598.0 410.5 L599.0 410.5 L600.0 410.5 L601.0 409.5 L602.0 409.5" stroke="#ff0000"/>
<path d="M72.0 382.5 L73.0 383.5 L74.0 382.5 L75.0 381.5 L76.0 382.5 L77.0 382.5 L78.0 382.5 L79.0 381.5 L80.0 381.5 L81.0 381.5 L82.0 382.5 L83.0 382.5 L84.0 382.5 L85.0 381.5 L86.0 382.5 L87.0 382.5 L88.0 382.5 L89.0 382.5 L90.0 382.5 L91.0 381.5 L92.0 382.5 L93.0 382.5 L94.0 381.5 L95.0 382.5 L96.0 382.5 L97.0 381.5 L98.0 381.5 L99.0 382.5 L100.0 382.5 L101.0 382.5 L102.0 382.5 L103.0 382.5 L104.0 381.5 L105.0 381.5 L106.0 381.5 L107.0 382.5 L108.0 382.5 L109.0 381.5 L110.0 381.5 L111.0 382.5 L112.0 381.5 L113.0 382.5 L114.0 381.5 L115.0 382.5 L116.0 381.5 L117.0 381.5 L118.0 381.5 L119.0 381.5 L120.0 381.5 L121.0 381.5 L122.0 381.5 L123.0 380.5 L124.0 381.5 L125.0 382.5 L126.0 381.5 L127.0 380.5 L128.0 380.5 L129.0 380.5 L130.0 380.5 L131.0 381.5 L132.0 381.5 L133.0 381.5 L134.0 381.5 L135.0 381.5 L136.0 381.5 L137.0 381.5 L138.0 381.5 L139.0 380.5 L140.0 381.5 L141.0 381.5 L142.0 381.5 L143.0 381.5 L144.0 381.5 L145.0 381.5 L146.0 381.5 L147.0 381.5 L148.0 381.5 L149.0 381.5 L150.0 380.5 L151.0 380.5 L152.0 381.5 L153.0 380.5 L154.0 380.5 L155.0 381.5 L156.0 381.5 L157.0 381.5 L158.0 381.5 L159.0 381.5 L160.0 381.5 L161.0 381.5 L162.0 381.5 L163.0 381.5 L164.0 381.5 L165.0 381.5 L166.0 381.5 L167.0 381.5 L168.0 381.5 L169.0 381.5 L170.0 381.5 L171.0 381.5 L172.0 380.5 L173.0 380.5 L174.0 380.5 L175.0 381.5 L176.0 381.5 L177.0 380.5 L178.0 381.5 L179.0 381.5 L180.0 381.5 L181.0 381.5 L182.0 381.5 L183.0 380.5 L184.0 380.5 L185.0 381.5 L186.0 381.5 L187.0 381.5 L188.0 381.5 L189.0 381.5 L190.0 381.5 L191.0 381.5 L192.0 381.5 L193.0 381.5 L194.0 381.5 L195.0 381.5 L196.0 381.5 L197.0 380.5 L198.0 380.5 L199.0 380.5 L200.0 381.5 L201.0 381.5 L202.0 381.5 L203.0 380.5 L204.0 380.5 L205.0 381.5 L206.0 381.5 L207.0 381.5 L208.0 381.5 L209.0 381.5 L210.0 381.5 L211.0 381.5 L212.0 381.5 L213.0 381.5 L214.0 381.5 L215.0 381.5 L216.0 381.5 L217.0 381.5 L218.0 380.5 L219.0 380.5 L220.0 381.5 L221.0 381.5 L222.0 381.5 L223.0 381.5 L224.0 381.5 L225.0 381.5 L226.0 380.5 L227.0 380.5 L228.0 381.5 L229.0 381.5 L230.0 381.5 L231.0 381.5 L232.0 381.5 L233.0 381.5 L234.0 381.5 L235.0 380.5 L236.0 380.5 L237.0 381.5 L238.0 380.5 L239.0 380.5 L240.0 380.5 L241.0 380.5 L242.0 380.5 L243.0 380.5 L244.0 380.5 L245.0 380.5 L246.0 380.5 L247.0 380.5 L248.0 380.5 L249.0 380.5 L250.0 380.5 L251.0 379.5 L252.0 379.5 L253.0 379.5 L254.0 379.5 L255.0 379.5 L256.0 378.5 L257.0 379.5 L258.0 379.5 L259.0 379.5 L260.0 379.5 L261.0 379.5 L262.0 378.5 L263.0 378.5 L264.0 378.5 L265.0 378.5 L266.0 378.5 L267.0 378.5 L268.0 378.5 L269.0 378.5 L270.0 378.5 L271.0 378.5 L272.0 377.5 L273.0 377.5 L274.0 378.5 L275.0 377.5 L276.0 377.5 L277.0 377.5 L278.0 377.5 L279.0 377.5 L280.0 377.5 L281.0 377.5 L282.0 376.5 L283.0 376.5 L284.0 376.5 L285.0 377.5 L286.0 376.5 L287.0 376.5 L288.0 375.5 L289.0 375.5 L290.0 375.5 L291.0 375.5 L292.0 374.5 L293.0 374.5 L294.0 374.5 L295.0 374.5 L296.0 373.5 L297.0 373.5 L298.0 373.5 L299.0 372.5 L300.0 371.5 L301.0 371.5 L302.0 371.5 L303.0 371.5 L304.0 370.5 L305.0 370.5 L306.0 370.5 L307.0 369.5 L308.0 368.5 L309.0 368.5 L310.0 367.5 L311.0 367.5 L312.0 367.5 L313.0 366.5 L314.0 365.5 L315.0 365.5 L316.0 365.5 L317.0 365.5 L318.0 365.5 L319.0 364.5 L320.0 364.5 L321.0 364.5 L322.0 364.5 L323.0 364.5 L324.0 363.5 L325.0 363.5 L326.0 362.5 L327.0 362.5 L328.0 362.5 L329.0 362.5 L330.0 362.5 L331.0 362.5 L332.0 361.5 L333.0 361.5 L334.0 361.5 L335.0 361.5 L336.0 361.5 L337.0 362.5 L338.0 362.5 L339.0 361.5 L340.0 361.5 L341.0 362.5 L342.0 362.5 L343.0 363.5 L344.0 363.5 L345.0 363.5 L346.0 363.5 L347.0 364.5 L348.0 364.5 L349.0 364.5 L350.0 364.5 L351.0 365.5 L352.0 365.5 L353.0 365.5 L354.0 365.5 L355.0 366.5 L356.0 366.5 L357.0 367.5 L358.0 367.5 L359.0 367.5 L360.0 367.5 L361.0 367.5 L362.0 368.5 L363.0 368.5 L364.0 367.5 L365.0 368.5 L366.0 369.5 L367.0 369.5 L368.0 370.5 L369.0 369.5 L370.0 368.5 L371.0 369.5 L372.0 370.5 L373.0 370.5 L374.0 370.5 L375.0 370.5 L376.0 370.5 L377.0 370.5 L378.0 370.5 L379.0 369.5 L380.0 369.5 L381.0 370.5 L382.0 370.5 L383.0 370.5 L384.0 370.5 L385.0 370.5 L386.0 370.5 L387.0 370.5 L388.0 369.5 L389.0 369.5 L390.0 369.5 L391.0 369.5 L392.0 369.5 L393.0 369.5 L394.0 369.5 L395.0 369.5 L396.0 368.5 L397.0 368.5 L398.0 369.5 L399.0 369.5 L400.0 367.5 L401.0 368.5 L402.0 367.5 L403.0 367.5 L404.0 367.5 L405.0 367.5 L406.0 366.5 L407.0 366.5 L408.0 366.5 L409.0 365.5 L410.0 365.5 L411.0 364.5 L412.0 363.5 L413.0 362.5 L414.0 362.5 L415.0 361.5 L416.0 361.5 L417.0 361.5 L418.0 360.5 L419.0 360.5 L420.0 359.5 L421.0 359.5 L422.0 359.5 L423.0 359.5 L424.0 359.5 L425.0 360.5 L426.0 360.5 L427.0 362.5 L428.0 362.5 L429.0 364.5 L430.0 364.5 L431.0 366.5 L432.0 367.5 L433.0 367.5 L434.0 367.5 L435.0 368.5 L436.0 370.5 L437.0 371.5 L438.0 373.5 L439.0 373.5 L440.0 374.5 L441.0 375.5 L442.0 376.5 L443.0 376.5 L444.0 377.5 L445.0 377.5 L446.0 377.5 L447.0 378.5 L448.0 378.5 L449.0 379.5 L450.0 379.5 L451.0 379.5 L452.0 379.5 L453.0 379.5 L454.0 379.5 L455.0 380.5 L456.0 380.5 L457.0 380.5 L458.0 380.5 L459.0 380.5 L460.0 381.5 L461.0 381.5 L462.0 380.5 L463.0 380.5 L464.0 380.5 L465.0 380.5 L466.0 381.5 L467.0 380.5 L468.0 381.5 L469.0 381.5 L470.0 381.5 L471.0 381.5 L472.0 381.5 L473.0 381.5 L474.0 381.5 L475.0 381.5 L476.0 381.5 L477.0 381.5 L478.0 381.5 L479.0 381.5 L480.0 381.5 L481.0 381.5 L482.0 381.5 L483.0 381.5 L484.0 381.5 L485.0 381.5 L486.0 381.5 L487.0 381.5 L488.0 381.5 L489.0 381.5 L490.0 382.5 L491.0 381.5 L492.0 381.5 L493.0 381.5 L494.0 381.5 L495.0 381.5 L496.0 381.5 L497.0 381.5 L498.0 381.5 L499.0 381.5 L500.0 381.5 L501.0 381.5 L502.0 381.5 L503.0 381.5 L504.0 381.5 L505.0 381.5 L506.0 380.5 L507.0 380.5 L508.0 381.5 L509.0 381.5 L510.0 381.5 L511.0 382.5 L512.0 381.5 L513.0 381.5 L514.0 381.5 L515.0 381.5 L516.0 380.5 L517.0 381.5 L518.0 380.5 L519.0 381.5 L520.0 382.5 L521.0 381.5 L522.0 381.5 L523.0 381.5 L524.0 380.5 L525.0 380.5 L526.0 381.5 L527.0 381.5 L528.0 381.5 L529.0 382.5 L530.0 382.5 L531.0 382.5 L532.0 381.5 L533.0 381.5 L534.0 381.5 L535.0 381.5 L536.0 382.5 L537.0 381.5 L538.0 381.5 L539.0 381.5 L540.0 381.5 L541.0 381.5 L542.0 381.5 L543.0 381.5 L544.0 381.5 L545.0 381.5 L546.0 382.5 L547.0 382.5 L548.0 381.5 L549.0 381.5 L550.0 381.5 L551.0 381.5 L552.0 381.5 L553.0 381.5 L554.0 381.5 L555.0 381.5 L556.0 380.5 L557.0 381.5 L558.0 382.5 L559.0 381.5 L560.0 381.5 L561.0 381.5 L562.0 381.5 L563.0 381.5 L564.0 381.5 L565.0 381.5 L566.0 381.5 L567.0 381.5 L568.0 381.5 L569.0 381.5 L570.0 381.5 L571.0 380.5 L572.0 381.5 L573.0 381.5 L574.0 381.5 L575.0 380.5 L576.0 381.5 L577.0 382.5 L578.0 381.5 L579.0 381.5 L580.0 381.5 L581.0 381.5 L582.0 381.5 L583.0 381.5 L584.0 381.5 L585.0 381.5 L586.0 381.5 L587.0 382.5 L588.0 381.5 L589.0 381.5 L590.0 381.5 L591.0 381.5 L592.0 381.5 L593.0 381.5 L594.0 381.5 L595.0 381.5 L596.0 381.5 L597.0 381.5 L598.0 381.5 L599.0 381.5 L600.0 381.5 L601.0 381.5 L602.0 382.5" stroke="#00ff00"/>
<path d="M72.0 360.5 L73.0 360.5 L74.0 359.5 L75.0 360.5 L76.0 360.5 L77.0 360.5 L78.0 360.5 L79.0 360.5 L80.0 360.5 L81.0 360.5 L82.0 360.5 L83.0 360.5 L84.0 360.5 L85.0 360.5 L86.0 359.5 L87.0 360.5 L88.0 360.5 L89.0 360.5 L90.0 360.5 L91.0 360.5 L92.0 359.5 L93.0 359.5 L94.0 360.5 L95.0 360.5 L96.0 359.5 L97.0 360.5 L98.0 360.5 L99.0 360.5 L100.0 360.5 L101.0 360.5 L102.0 359.5 L103.0 359.5 L104.0 359.5 L105.0 359.5 L106.0 359.5 L107.0 359.5 L108.0 359.5 L109.0 359.5 L110.0 359.5 L111.0 358.5 L112.0 358.5 L113.0 359.5 L114.0 359.5 L115.0 359.5 L116.0 359.5 L117.0 358.5 L118.0 358.5 L119.0 358.5 L120.0 358.5 L121.0 358.5 L122.0 358.5 L123.0 358.5 L124.0 357.5 L125.0 358.5 L126.0 358.5 L127.0 358.5 L128.0 357.5 L129.0 357.5 L130.0 357.5 L131.0 357.5 L132.0 357.5 L133.0 357.5 L134.0 357.5 L135.0 357.5 L136.0 358.5 L137.0 357.5 L138.0 357.5 L139.0 357.5 L140.0 358.5 L141.0 358.5 L142.0 358.5 L143.0 358.5 L144.0 358.5 L145.0 357.5 L146.0 357.5 L147.0 357.5 L148.0 358.5 L149.0 358.5 L150.0 359.5 L151.0 358.5 L152.0 358.5 L153.0 358.5 L154.0 358.5 L155.0 358.5 L156.0 359.5 L157.0 358.5 L158.0 358.5 L159.0 358.5 L160.0 358.5 L161.0 359.5 L162.0 359.5 L163.0 359.5 L164.0 359.5 L165.0 359.5 L166.0 359.5 L167.0 358.5 L168.0 359.5 L169.0 360.5 L170.0 359.5 L171.0 359.5 L172.0 359.5 L173.0 358.5 L174.0 358.5 L175.0 358.5 L176.0 358.5 L177.0 358.5 L178.0 358.5 L179.0 359.5 L180.0 359.5 L181.0 359.5 L182.0 359.5 L183.0 359.5 L184.0 359.5 L185.0 359.5 L186.0 359.5 L187.0 359.5 L188.0 359.5 L189.0 358.5 L190.0 358.5 L191.0 359.5 L192.0 359.5 L193.0 359.5 L194.0 359.5 L195.0 359.5 L196.0 358.5 L197.0 359.5 L198.0 358.5 L199.0 358.5 L200.0 359.5 L201.0 359.5 L202.0 359.5 L203.0 359.5 L204.0 359.5 L205.0 359.5 L206.0 359.5 L207.0 359.5 L208.0 359.5 L209.0 359.5 L210.0 359.5 L211.0 359.5 L212.0 358.5 L213.0 358.5 L214.0 359.5 L215.0 359.5 L216.0 359.5 L217.0 358.5 L218.0 358.5 L219.0 358.5 L220.0 358.5 L221.0 358.5 L222.0 357.5 L223.0 357.5 L224.0 357.5 L225.0 358.5 L226.0 358.5 L227.0 357.5 L228.0 358.5 L229.0 357.5 L230.0 358.5 L231.0 357.5 L232.0 357.5 L233.0 357.5 L234.0 357.5 L235.0 357.5 L236.0 357.5 L237.0 357.5 L238.0 357.5 L239.0 356.5 L240.0 357.5 L241.0 357.5 L242.0 356.5 L243.0 356.5 L244.0 356.5 L245.0 356.5 L246.0 356.5 L247.0 356.5 L248.0 356.5 L249.0 356.5 L250.0 355.5 L251.0 356.5 L252.0 355.5 L253.0 355.5 L254.0 355.5 L255.0 354.5 L256.0 354.5 L257.0 355.5 L258.0 355.5 L259.0 354.5 L260.0 354.5 L261.0 354.5 L262.0 354.5 L263.0 353.5 L264.0 353.5 L265.0 353.5 L266.0 352.5 L267.0 352.5 L268.0 353.5 L269.0 353.5 L270.0 352.5 L271.0 352.5 L272.0 352.5 L273.0 352.5 L274.0 351.5 L275.0 351.5 L276.0 352.5 L277.0 352.5 L278.0 352.5 L279.0 351.5 L280.0 351.5 L281.0 351.5 L282.0 351.5 L283.0 350.5 L284.0 350.5 L285.0 350.5 L286.0 350.5 L287.0 349.5 L288.0 349.5 L289.0 349.5 L290.0 349.5 L291.0 349.5 L292.0 348.5 L293.0 347.5 L294.0 347.5 L295.0 347.5 L296.0 347.5 L297.0 347.5 L298.0 346.5 L299.0 346.5 L300.0 346.5 L301.0 345.5 L302.0 345.5 L303.0 344.5 L304.0 343.5 L305.0 343.5 L306.0 343.5 L307.0 343.5 L308.0 342.5 L309.0 341.5 L310.0 341.5 L311.0 340.5 L312.0 339.5 L313.0 339.5 L314.0 338.5 L315.0 337.5 L316.0 337.5 L317.0 336.5 L318.0 335.5 L319.0 334.5 L320.0 334.5 L321.0 333.5 L322.0 331.5 L323.0 331.5 L324.0 331.5 L325.0 330.5 L326.0 329.5 L327.0 329.5 L328.0 329.5 L329.0 328.5 L330.0 328.5 L331.0 328.5 L332.0 328.5 L333.0 328.5 L334.0 328.5 L335.0 328.5 L336.0 329.5 L337.0 330.5 L338.0 330.5 L339.0 331.5 L340.0 332.5 L341.0 332.5 L342.0 333.5 L343.0 334.5 L344.0 335.5 L345.0 336.5 L346.0 337.5 L347.0 337.5 L348.0 337.5 L349.0 338.5 L350.0 339.5 L351.0 339.5 L352.0 340.5 L353.0 340.5 L354.0 340.5 L355.0 341.5 L356.0 342.5 L357.0 342.5 L358.0 343.5 L359.0 343.5 L360.0 343.5 L361.0 344.5 L362.0 344.5 L363.0 344.5 L364.0 344.5 L365.0 344.5 L366.0 344.5 L367.0 344.5 L368.0 345.5 L369.0 345.5 L370.0 345.5 L371.0 344.5 L372.0 345.5 L373.0 344.5 L374.0 345.5 L375.0 345.5 L376.0 345.5 L377.0 344.5 L378.0 345.5 L379.0 345.5 L380.0 345.5 L381.0 345.5 L382.0 345.5 L383.0 344.5 L384.0 344.5 L385.0 344.5 L386.0 345.5 L387.0 344.5 L388.0 344.5 L389.0 344.5 L390.0 343.5 L391.0 342.5 L392.0 342.5 L393.0 342.5 L394.0 342.5 L395.0 341.5 L396.0 340.5 L397.0 340.5 L398.0 340.5 L399.0 339.5 L400.0 338.5 L401.0 338.5 L402.0 336.5 L403.0 335.5 L404.0 333.5 L405.0 331.5 L406.0 329.5 L407.0 325.5 L408.0 320.5 L409.0 316.5 L410.0 312.5 L411.0 306.5 L412.0 301.5 L413.0 298.5 L414.0 297.5 L415.0 301.5 L416.0 303.5 L417.0 306.5 L418.0 311.5 L419.0 315.5 L420.0 319.5 L421.0 321.5 L422.0 324.5 L423.0 327.5 L424.0 328.5 L425.0 329.5 L426.0 331.5 L427.0 333.5 L428.0 335.5 L429.0 336.5 L430.0 337.5 L431.0 339.5 L432.0 341.5 L433.0 342.5 L434.0 343.5 L435.0 345.5 L436.0 346.5 L437.0 347.5 L438.0 348.5 L439.0 349.5 L440.0 350.5 L441.0 351.5 L442.0 352.5 L443.0 352.5 L444.0 353.5 L445.0 353.5 L446.0 354.5 L447.0 354.5 L448.0 355.5 L449.0 355.5 L450.0 355.5 L451.0 356.5 L452.0 356.5 L453.0 356.5 L454.0 356.5 L455.0 356.5 L456.0 357.5 L457.0 357.5 L458.0 356.5 L459.0 356.5 L460.0 356.5 L461.0 357.5 L462.0 357.5 L463.0 357.5 L464.0 357.5 L465.0 357.5 L466.0 356.5 L467.0 356.5 L468.0 356.5 L469.0 356.5 L470.0 356.5 L471.0 356.5 L472.0 357.5 L473.0 357.5 L474.0 356.5 L475.0 357.5 L476.0 357.5 L477.0 357.5 L478.0 357.5 L479.0 357.5 L480.0 357.5 L481.0 357.5 L482.0 358.5 L483.0 358.5 L484.0 357.5 L485.0 358.5 L486.0 358.5 L487.0 358.5 L488.0 358.5 L489.0 358.5 L490.0 358.5 L491.0 358.5 L492.0 358.5 L493.0 358.5 L494.0 358.5 L495.0 358.5 L496.0 358.5 L497.0 358.5 L498.0 359.5 L499.0 358.5 L500.0 358.5 L501.0 358.5 L502.0 358.5 L503.0 358.5 L504.0 359.5 L505.0 359.5 L506.0 359.5 L507.0 358.5 L508.0 358.5 L509.0 357.5 L510.0 357.5 L511.0 358.5 L512.0 358.5 L513.0 357.5 L514.0 358.5 L515.0 358.5 L516.0 358.5 L517.0 357.5 L518.0 357.5 L519.0 358.5 L520.0 358.5 L521.0 358.5 L522.0 358.5 L523.0 359.5 L524.0 360.5 L525.0 359.5 L526.0 359.5 L527.0 359.5 L528.0 359.5 L529.0 358.5 L530.0 359.5 L531.0 359.5 L532.0 359.5 L533.0 358.5 L534.0 358.5 L535.0 358.5 L536.0 359.5 L537.0 359.5 L538.0 358.5 L539.0 358.5 L540.0 359.5 L541.0 359.5 L542.0 359.5 L543.0 358.5 L544.0 359.5 L545.0 358.5 L546.0 359.5 L547.0 358.5 L548.0 358.5 L549.0 359.5 L550.0 359.5 L551.0 359.5 L552.0 358.5 L553.0 358.5 L554.0 359.5 L555.0 359.5 L556.0 358.5 L557.0 358.5 L558.0 358.5 L559.0 359.5 L560.0 359.5 L561.0 359.5 L562.0 359.5 L563.0 359.5 L564.0 359.5 L565.0 360.5 L566.0 359.5 L567.0 359.5 L568.0 359.5 L569.0 358.5 L570.0 359.5 L571.0 359.5 L572.0 359.5 L573.0 358.5 L574.0 359.5 L575.0 359.5 L576.0 359.5 L577.0 359.5 L578.0 359.5 L579.0 360.5 L580.0 359.5 L581.0 359.5 L582.0 359.5 L583.0 359.5 L584.0 359.5 L585.0 359.5 L586.0 359.5 L587.0 359.5 L588.0 359.5 L589.0 360.5 L590.0 359.5 L591.0 359.5 L592.0 359.5 L593.0 359.5 L594.0 359.5 L595.0 359.5 L596.0 359.5 L597.0 359.5 L598.0 359.5 L599.0 359.5 L600.0 359.5 L601.0 359.5 L602.0 359.5" stroke="#0000ff"/></g>
<g class="ax"><rect x="67" y="6" width="553" height="1"/>
<rect x="67" y="433" width="553" height="1.15"/>
<rect x="67" y="149" width="553" height="1"/>
<rect x="67" y="291" width="553" height="1"/>
<rect x="67" y="6" width="1" height="428"/>
<rect x="619" y="6" width="1" height="428"/>
<rect x="76" y="431" width="1" height="2"/>
<rect x="120" y="429" width="1" height="4"/>
<rect x="165" y="431" width="1" height="2"/>
<rect x="209" y="429" width="1" height="4"/>
<rect x="254" y="431" width="1" height="2"/>
<rect x="299" y="429" width="1" height="4"/>
<rect x="343" y="431" width="1" height="2"/>
<rect x="388" y="429" width="1" height="4"/>
<rect x="432" y="431" width="1" height="2"/>
<rect x="477" y="429" width="1" height="4"/>
<rect x="522" y="431" width="1" height="2"/>
<rect x="566" y="429" width="1" height="4"/>
<rect x="611" y="431" width="1" height="2"/>
<rect x="68" y="53" width="3" height="1"/>
<rect x="68" y="101" width="3" height="1"/>
<rect x="68" y="195" width="4" height="1"/>
<rect x="68" y="243" width="4" height="1"/>
<rect x="68" y="337" width="3" height="1"/>
<rect x="68" y="385" width="4" height="1"/>
<rect x="68" y="29" width="1" height="1"/>
<rect x="69" y="29" width="1" height="1" style="fill:#9a9a9a"/>
<rect x="68" y="77" width="1" height="1"/>
<rect x="69" y="77" width="1" height="1" style="fill:#9a9a9a"/>
<rect x="68" y="125" width="1" height="1"/>
<rect x="69" y="125" width="1" height="1" style="fill:#9a9a9a"/>
<rect x="68" y="171" width="1" height="1"/>
<rect x="69" y="171" width="1" height="1" style="fill:#9a9a9a"/>
<rect x="68" y="219" width="1" height="1"/>
<rect x="69" y="219" width="1" height="1" style="fill:#9a9a9a"/>
<rect x="68" y="267" width="1" height="1"/>
<rect x="69" y="267" width="1" height="1" style="fill:#9a9a9a"/>
<rect x="68" y="313" width="1" height="1"/>
<rect x="69" y="313" width="1" height="1" style="fill:#9a9a9a"/>
<rect x="68" y="361" width="1" height="1"/>
<rect x="69" y="361" width="1" height="1" style="fill:#9a9a9a"/>
<rect x="68" y="409" width="1" height="1"/>
<rect x="69" y="409" width="1" height="1" style="fill:#9a9a9a"/></g>
<g style="filter:grayscale(1)"><text x="67.1" y="59.3" font-size="17" text-anchor="end" letter-spacing="0.55" >10,600</text>
<text x="67.1" y="107.3" font-size="17" text-anchor="end" letter-spacing="0.55" >5300</text>
<text x="66.6" y="155.3" font-size="17" text-anchor="end" letter-spacing="0" >0</text>
<text x="65.6" y="200.2" font-size="16.1" text-anchor="end" letter-spacing="0.4" >4800</text>
<text x="65.6" y="248.2" font-size="16.1" text-anchor="end" letter-spacing="0.4" >2400</text>
<text x="65.2" y="296.2" font-size="16.1" text-anchor="end" letter-spacing="0" >0</text>
<text x="66.1" y="342.95" font-size="18" text-anchor="end" letter-spacing="0.3" >5400</text>
<text x="66.1" y="390.95" font-size="18" text-anchor="end" letter-spacing="0.3" >2700</text>
<text x="65.8" y="438.95" font-size="18" text-anchor="end" letter-spacing="0" >0</text>
<text x="120.1" y="448.6" font-size="16.5" text-anchor="middle" letter-spacing="0" >750</text>
<text x="209.3" y="448.6" font-size="16.5" text-anchor="middle" letter-spacing="0" >1000</text>
<text x="298.5" y="448.6" font-size="16.5" text-anchor="middle" letter-spacing="0" >1250</text>
<text x="387.7" y="448.6" font-size="16.5" text-anchor="middle" letter-spacing="0" >1500</text>
<text x="476.9" y="448.6" font-size="16.5" text-anchor="middle" letter-spacing="0" >1750</text>
<text x="566.1" y="448.6" font-size="16.5" text-anchor="middle" letter-spacing="0" >2000</text>
<text x="116.4" y="66.5" font-size="17.2" text-anchor="start" letter-spacing="0" >RC-900</text>
<text x="116.4" y="100" font-size="17.2" text-anchor="start" letter-spacing="0" >RC-800</text>
<text x="116.4" y="122.5" font-size="17.2" text-anchor="start" letter-spacing="0" >RC-700</text>
<text x="116.4" y="141.5" font-size="17.2" text-anchor="start" letter-spacing="0" >RC-600</text>
<text x="115.4" y="193.6" font-size="18" text-anchor="start" letter-spacing="0" >RC-K-900</text>
<text x="115.4" y="228" font-size="18" text-anchor="start" letter-spacing="0" >RC-K-800</text>
<text x="115.4" y="251" font-size="18" text-anchor="start" letter-spacing="0" >RC-K-700</text>
<text x="115.4" y="284.5" font-size="18" text-anchor="start" letter-spacing="0" >RC-K-600</text>
<text x="114.6" y="354.5" font-size="18" text-anchor="start" letter-spacing="0" >RC-2K-900</text>
<text x="114.6" y="378" font-size="18" text-anchor="start" letter-spacing="0" >RC-2K-800</text>
<text x="114.6" y="408" font-size="18" text-anchor="start" letter-spacing="0" >RC-2K-700</text>
<text x="114.6" y="426" font-size="18" text-anchor="start" letter-spacing="0" >RC-2K-600</text>
<text x="495.3" y="61.9" font-size="15.4" text-anchor="start" letter-spacing="0" >1.72</text>
<text x="495.8" y="96.9" font-size="15.4" text-anchor="start" letter-spacing="0" >1.49</text>
<text x="495.5" y="121.3" font-size="15.4" text-anchor="start" letter-spacing="0" >1.24</text>
<text x="495.5" y="141.5" font-size="15.4" text-anchor="start" letter-spacing="0" >1.13</text>
<text x="496.6" y="199.8" font-size="16.2" text-anchor="start" letter-spacing="0" >2.02</text>
<text x="497" y="227.6" font-size="16.2" text-anchor="start" letter-spacing="0" >1.08</text>
<text x="497" y="249.8" font-size="16.2" text-anchor="start" letter-spacing="0" >1.17</text>
<text x="497" y="279.2" font-size="16.2" text-anchor="start" letter-spacing="0" >1.38</text>
<text x="498" y="353.8" font-size="16.2" text-anchor="start" letter-spacing="0" >1.99</text>
<text x="498.4" y="377.6" font-size="16.2" text-anchor="start" letter-spacing="0" >1.12</text>
<text x="498.4" y="404.5" font-size="16.2" text-anchor="start" letter-spacing="0" >1.20</text>
<text x="498.4" y="423" font-size="16.2" text-anchor="start" letter-spacing="0" >1.33</text>
<text x="76.2" y="27" font-size="14.5" text-anchor="start" letter-spacing="0.4" >(a)</text>
<text x="76.2" y="173" font-size="14.5" text-anchor="start" letter-spacing="0.4" >(b)</text>
<text x="76.2" y="314" font-size="14.5" text-anchor="start" letter-spacing="0.4" >(c)</text>
<text x="335.5" y="30" font-size="17.8" text-anchor="middle" letter-spacing="0" >D</text>
<text x="421.6" y="20.7" font-size="18.2" text-anchor="middle" letter-spacing="0" >G</text>
<text id="xt" y="472.8" font-size="23.5" style="font-kerning:none"><tspan x="242.1">W</tspan><tspan x="266.6">a</tspan><tspan x="277">v</tspan><tspan x="290">e</tspan><tspan x="300">n</tspan><tspan x="311.7">u</tspan><tspan x="324">m</tspan><tspan x="345.6">b</tspan><tspan x="358.5">e</tspan><tspan x="368.5">r</tspan><tspan x="384.4">(</tspan><tspan x="393">c</tspan><tspan x="402.9">m</tspan><tspan x="421.9" y="463.7" font-size="12.4">−</tspan><tspan x="429.0" y="463.7" font-size="12.4">1</tspan><tspan x="435.6" y="472.8">)</tspan></text>
<text id="yt" transform="translate(23.0,259.6) rotate(-90)" font-size="24.4" letter-spacing="0" style="font-kerning:none">Intensity</text></g>
</svg>
</body></html>
